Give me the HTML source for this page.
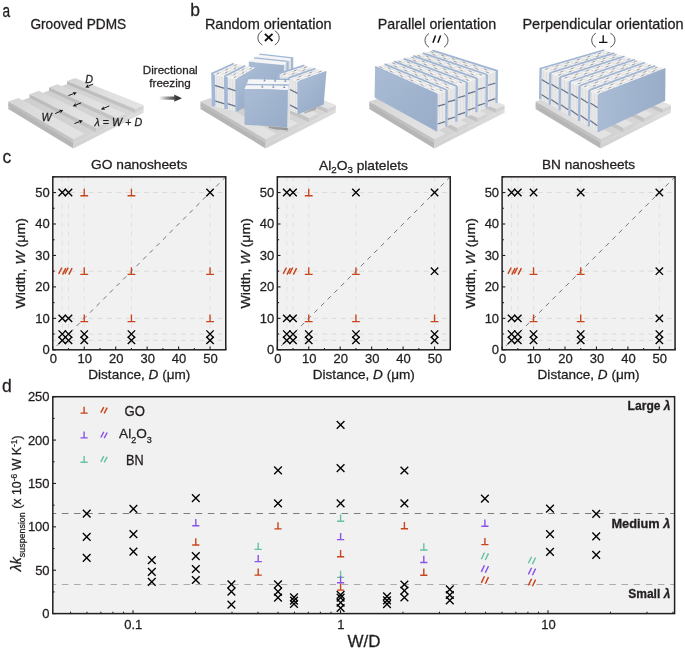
<!DOCTYPE html>
<html><head><meta charset="utf-8"><style>
html,body{margin:0;padding:0;background:#fff;}
svg{display:block;font-family:"Liberation Sans", sans-serif;will-change:transform;}
text{stroke:#231f20;stroke-width:0.28px;}
</style></head><body>
<svg width="685" height="652" viewBox="0 0 685 652">
<rect width="685" height="652" fill="#fff"/>
<defs><linearGradient id="g1" gradientUnits="userSpaceOnUse" x1="8.27" y1="105.34" x2="8.22" y2="109.07"><stop offset="0" stop-color="#c9c9c9"/><stop offset="0.3" stop-color="#c4c4c4"/><stop offset="1" stop-color="#b6b6b6"/></linearGradient><linearGradient id="g2" gradientUnits="userSpaceOnUse" x1="73.43" y1="143.76" x2="143.57" y2="108.94"><stop offset="0" stop-color="#d2d2d2"/><stop offset="1" stop-color="#dcdcdc"/></linearGradient><linearGradient id="g3" gradientUnits="userSpaceOnUse" x1="8.27" y1="105.34" x2="143.57" y2="108.94"><stop offset="0" stop-color="#cdcdcd"/><stop offset="1" stop-color="#d8d8d8"/></linearGradient><linearGradient id="g4" gradientUnits="userSpaceOnUse" x1="67.06" y1="80.93" x2="135.44" y2="109.01"><stop offset="0" stop-color="#bababa"/><stop offset="1" stop-color="#c4c4c4"/></linearGradient><linearGradient id="g5" gradientUnits="userSpaceOnUse" x1="67.06" y1="80.93" x2="143.60" y2="105.04"><stop offset="0" stop-color="#d5d5d5"/><stop offset="0.6" stop-color="#e1e1e1"/><stop offset="1" stop-color="#e3e3e3"/></linearGradient><linearGradient id="g6" gradientUnits="userSpaceOnUse" x1="49.02" y1="87.28" x2="116.76" y2="118.09"><stop offset="0" stop-color="#bababa"/><stop offset="1" stop-color="#c4c4c4"/></linearGradient><linearGradient id="g7" gradientUnits="userSpaceOnUse" x1="49.02" y1="87.28" x2="125.73" y2="113.73"><stop offset="0" stop-color="#d5d5d5"/><stop offset="0.6" stop-color="#e1e1e1"/><stop offset="1" stop-color="#e3e3e3"/></linearGradient><linearGradient id="g8" gradientUnits="userSpaceOnUse" x1="29.51" y1="94.16" x2="96.22" y2="128.08"><stop offset="0" stop-color="#bababa"/><stop offset="1" stop-color="#c4c4c4"/></linearGradient><linearGradient id="g9" gradientUnits="userSpaceOnUse" x1="29.51" y1="94.16" x2="106.09" y2="123.28"><stop offset="0" stop-color="#d5d5d5"/><stop offset="0.6" stop-color="#e1e1e1"/><stop offset="1" stop-color="#e3e3e3"/></linearGradient><linearGradient id="g10" gradientUnits="userSpaceOnUse" x1="8.33" y1="101.62" x2="73.49" y2="139.13"><stop offset="0" stop-color="#bababa"/><stop offset="1" stop-color="#c4c4c4"/></linearGradient><linearGradient id="g11" gradientUnits="userSpaceOnUse" x1="8.33" y1="101.62" x2="84.42" y2="133.81"><stop offset="0" stop-color="#d5d5d5"/><stop offset="0.6" stop-color="#e1e1e1"/><stop offset="1" stop-color="#e3e3e3"/></linearGradient><linearGradient id="g12" gradientUnits="userSpaceOnUse" x1="159.00" y1="98.00" x2="182.00" y2="98.00"><stop offset="0" stop-color="#ffffff"/><stop offset="0.35" stop-color="#9a9a9a"/><stop offset="0.75" stop-color="#3c3c3c"/><stop offset="1" stop-color="#2a2a2a"/></linearGradient><linearGradient id="g13" gradientUnits="userSpaceOnUse" x1="200.47" y1="105.34" x2="200.42" y2="109.07"><stop offset="0" stop-color="#c9c9c9"/><stop offset="0.3" stop-color="#c4c4c4"/><stop offset="1" stop-color="#b6b6b6"/></linearGradient><linearGradient id="g14" gradientUnits="userSpaceOnUse" x1="265.63" y1="143.76" x2="335.77" y2="108.94"><stop offset="0" stop-color="#d2d2d2"/><stop offset="1" stop-color="#dcdcdc"/></linearGradient><linearGradient id="g15" gradientUnits="userSpaceOnUse" x1="200.47" y1="105.34" x2="335.77" y2="108.94"><stop offset="0" stop-color="#cdcdcd"/><stop offset="1" stop-color="#d8d8d8"/></linearGradient><linearGradient id="g16" gradientUnits="userSpaceOnUse" x1="259.26" y1="80.93" x2="327.64" y2="109.01"><stop offset="0" stop-color="#bababa"/><stop offset="1" stop-color="#c4c4c4"/></linearGradient><linearGradient id="g17" gradientUnits="userSpaceOnUse" x1="259.26" y1="80.93" x2="335.80" y2="105.04"><stop offset="0" stop-color="#d5d5d5"/><stop offset="0.6" stop-color="#e1e1e1"/><stop offset="1" stop-color="#e3e3e3"/></linearGradient><linearGradient id="g18" gradientUnits="userSpaceOnUse" x1="241.22" y1="87.28" x2="308.96" y2="118.09"><stop offset="0" stop-color="#bababa"/><stop offset="1" stop-color="#c4c4c4"/></linearGradient><linearGradient id="g19" gradientUnits="userSpaceOnUse" x1="241.22" y1="87.28" x2="317.93" y2="113.73"><stop offset="0" stop-color="#d5d5d5"/><stop offset="0.6" stop-color="#e1e1e1"/><stop offset="1" stop-color="#e3e3e3"/></linearGradient><linearGradient id="g20" gradientUnits="userSpaceOnUse" x1="221.71" y1="94.16" x2="288.42" y2="128.08"><stop offset="0" stop-color="#bababa"/><stop offset="1" stop-color="#c4c4c4"/></linearGradient><linearGradient id="g21" gradientUnits="userSpaceOnUse" x1="221.71" y1="94.16" x2="298.29" y2="123.28"><stop offset="0" stop-color="#d5d5d5"/><stop offset="0.6" stop-color="#e1e1e1"/><stop offset="1" stop-color="#e3e3e3"/></linearGradient><linearGradient id="g22" gradientUnits="userSpaceOnUse" x1="200.53" y1="101.62" x2="265.69" y2="139.13"><stop offset="0" stop-color="#bababa"/><stop offset="1" stop-color="#c4c4c4"/></linearGradient><linearGradient id="g23" gradientUnits="userSpaceOnUse" x1="200.53" y1="101.62" x2="276.62" y2="133.81"><stop offset="0" stop-color="#d5d5d5"/><stop offset="0.6" stop-color="#e1e1e1"/><stop offset="1" stop-color="#e3e3e3"/></linearGradient><linearGradient id="g24" gradientUnits="userSpaceOnUse" x1="369.27" y1="105.34" x2="369.22" y2="109.07"><stop offset="0" stop-color="#c9c9c9"/><stop offset="0.3" stop-color="#c4c4c4"/><stop offset="1" stop-color="#b6b6b6"/></linearGradient><linearGradient id="g25" gradientUnits="userSpaceOnUse" x1="434.43" y1="143.76" x2="504.57" y2="108.94"><stop offset="0" stop-color="#d2d2d2"/><stop offset="1" stop-color="#dcdcdc"/></linearGradient><linearGradient id="g26" gradientUnits="userSpaceOnUse" x1="369.27" y1="105.34" x2="504.57" y2="108.94"><stop offset="0" stop-color="#cdcdcd"/><stop offset="1" stop-color="#d8d8d8"/></linearGradient><linearGradient id="g27" gradientUnits="userSpaceOnUse" x1="428.06" y1="80.93" x2="496.44" y2="109.01"><stop offset="0" stop-color="#bababa"/><stop offset="1" stop-color="#c4c4c4"/></linearGradient><linearGradient id="g28" gradientUnits="userSpaceOnUse" x1="428.06" y1="80.93" x2="504.60" y2="105.04"><stop offset="0" stop-color="#d5d5d5"/><stop offset="0.6" stop-color="#e1e1e1"/><stop offset="1" stop-color="#e3e3e3"/></linearGradient><linearGradient id="g29" gradientUnits="userSpaceOnUse" x1="410.02" y1="87.28" x2="477.76" y2="118.09"><stop offset="0" stop-color="#bababa"/><stop offset="1" stop-color="#c4c4c4"/></linearGradient><linearGradient id="g30" gradientUnits="userSpaceOnUse" x1="410.02" y1="87.28" x2="486.73" y2="113.73"><stop offset="0" stop-color="#d5d5d5"/><stop offset="0.6" stop-color="#e1e1e1"/><stop offset="1" stop-color="#e3e3e3"/></linearGradient><linearGradient id="g31" gradientUnits="userSpaceOnUse" x1="390.51" y1="94.16" x2="457.22" y2="128.08"><stop offset="0" stop-color="#bababa"/><stop offset="1" stop-color="#c4c4c4"/></linearGradient><linearGradient id="g32" gradientUnits="userSpaceOnUse" x1="390.51" y1="94.16" x2="467.09" y2="123.28"><stop offset="0" stop-color="#d5d5d5"/><stop offset="0.6" stop-color="#e1e1e1"/><stop offset="1" stop-color="#e3e3e3"/></linearGradient><linearGradient id="g33" gradientUnits="userSpaceOnUse" x1="369.33" y1="101.62" x2="434.49" y2="139.13"><stop offset="0" stop-color="#bababa"/><stop offset="1" stop-color="#c4c4c4"/></linearGradient><linearGradient id="g34" gradientUnits="userSpaceOnUse" x1="369.33" y1="101.62" x2="445.42" y2="133.81"><stop offset="0" stop-color="#d5d5d5"/><stop offset="0.6" stop-color="#e1e1e1"/><stop offset="1" stop-color="#e3e3e3"/></linearGradient><linearGradient id="g35" gradientUnits="userSpaceOnUse" x1="535.57" y1="105.34" x2="535.52" y2="109.07"><stop offset="0" stop-color="#c9c9c9"/><stop offset="0.3" stop-color="#c4c4c4"/><stop offset="1" stop-color="#b6b6b6"/></linearGradient><linearGradient id="g36" gradientUnits="userSpaceOnUse" x1="600.73" y1="143.76" x2="670.87" y2="108.94"><stop offset="0" stop-color="#d2d2d2"/><stop offset="1" stop-color="#dcdcdc"/></linearGradient><linearGradient id="g37" gradientUnits="userSpaceOnUse" x1="535.57" y1="105.34" x2="670.87" y2="108.94"><stop offset="0" stop-color="#cdcdcd"/><stop offset="1" stop-color="#d8d8d8"/></linearGradient><linearGradient id="g38" gradientUnits="userSpaceOnUse" x1="594.36" y1="80.93" x2="662.74" y2="109.01"><stop offset="0" stop-color="#bababa"/><stop offset="1" stop-color="#c4c4c4"/></linearGradient><linearGradient id="g39" gradientUnits="userSpaceOnUse" x1="594.36" y1="80.93" x2="670.90" y2="105.04"><stop offset="0" stop-color="#d5d5d5"/><stop offset="0.6" stop-color="#e1e1e1"/><stop offset="1" stop-color="#e3e3e3"/></linearGradient><linearGradient id="g40" gradientUnits="userSpaceOnUse" x1="576.32" y1="87.28" x2="644.06" y2="118.09"><stop offset="0" stop-color="#bababa"/><stop offset="1" stop-color="#c4c4c4"/></linearGradient><linearGradient id="g41" gradientUnits="userSpaceOnUse" x1="576.32" y1="87.28" x2="653.03" y2="113.73"><stop offset="0" stop-color="#d5d5d5"/><stop offset="0.6" stop-color="#e1e1e1"/><stop offset="1" stop-color="#e3e3e3"/></linearGradient><linearGradient id="g42" gradientUnits="userSpaceOnUse" x1="556.81" y1="94.16" x2="623.52" y2="128.08"><stop offset="0" stop-color="#bababa"/><stop offset="1" stop-color="#c4c4c4"/></linearGradient><linearGradient id="g43" gradientUnits="userSpaceOnUse" x1="556.81" y1="94.16" x2="633.39" y2="123.28"><stop offset="0" stop-color="#d5d5d5"/><stop offset="0.6" stop-color="#e1e1e1"/><stop offset="1" stop-color="#e3e3e3"/></linearGradient><linearGradient id="g44" gradientUnits="userSpaceOnUse" x1="535.63" y1="101.62" x2="600.79" y2="139.13"><stop offset="0" stop-color="#bababa"/><stop offset="1" stop-color="#c4c4c4"/></linearGradient><linearGradient id="g45" gradientUnits="userSpaceOnUse" x1="535.63" y1="101.62" x2="611.72" y2="133.81"><stop offset="0" stop-color="#d5d5d5"/><stop offset="0.6" stop-color="#e1e1e1"/><stop offset="1" stop-color="#e3e3e3"/></linearGradient><linearGradient id="g46" gradientUnits="userSpaceOnUse" x1="375.07" y1="66.90" x2="436.27" y2="131.25"><stop offset="0" stop-color="#aabcd5"/><stop offset="1" stop-color="#98acc8"/></linearGradient><linearGradient id="g47" gradientUnits="userSpaceOnUse" x1="599.06" y1="94.50" x2="665.18" y2="100.76"><stop offset="0" stop-color="#aabcd5"/><stop offset="1" stop-color="#98acc8"/></linearGradient><linearGradient id="g48" gradientUnits="userSpaceOnUse" x1="248.80" y1="61.60" x2="282.90" y2="99.00"><stop offset="0" stop-color="#aabcd5"/><stop offset="1" stop-color="#98acc8"/></linearGradient><linearGradient id="g49" gradientUnits="userSpaceOnUse" x1="237.20" y1="79.30" x2="256.50" y2="100.50"><stop offset="0" stop-color="#aabcd5"/><stop offset="1" stop-color="#98acc8"/></linearGradient><linearGradient id="g50" gradientUnits="userSpaceOnUse" x1="298.50" y1="81.90" x2="323.70" y2="104.40"><stop offset="0" stop-color="#aabcd5"/><stop offset="1" stop-color="#98acc8"/></linearGradient><linearGradient id="g51" gradientUnits="userSpaceOnUse" x1="244.50" y1="88.90" x2="287.30" y2="127.30"><stop offset="0" stop-color="#aabcd5"/><stop offset="1" stop-color="#98acc8"/></linearGradient></defs>
<polygon points="8.27,105.34 73.43,143.76 73.38,148.39 8.22,109.07" fill="url(#g1)" />
<polygon points="73.43,143.76 143.57,108.94 143.54,112.85 73.38,148.39" fill="url(#g2)" />
<polygon points="8.27,105.34 75.01,81.36 143.57,108.94 73.43,143.76" fill="url(#g3)" />
<polygon points="67.06,80.93 135.44,109.01 135.40,113.00 67.01,84.23" fill="url(#g4)" />
<polygon points="135.40,113.00 143.57,108.94 143.60,105.04 135.44,109.01" fill="#d3d3d3" />
<polygon points="67.06,80.93 75.04,78.12 143.60,105.04 135.44,109.01" fill="url(#g5)" />
<polygon points="49.02,87.28 116.76,118.09 116.72,122.27 48.98,90.71" fill="url(#g6)" />
<polygon points="116.72,122.27 125.69,117.82 125.73,113.73 116.76,118.09" fill="#d3d3d3" />
<polygon points="49.02,87.28 57.64,84.24 125.73,113.73 116.76,118.09" fill="url(#g7)" />
<polygon points="29.51,94.16 96.22,128.08 96.17,132.47 29.46,97.73" fill="url(#g8)" />
<polygon points="96.17,132.47 106.04,127.57 106.09,123.28 96.22,128.08" fill="#d3d3d3" />
<polygon points="29.51,94.16 38.84,90.87 106.09,123.28 96.22,128.08" fill="url(#g9)" />
<polygon points="8.33,101.62 73.49,139.13 73.43,143.76 8.27,105.34" fill="url(#g10)" />
<polygon points="73.43,143.76 84.37,138.33 84.42,133.81 73.49,139.13" fill="#d3d3d3" />
<polygon points="8.33,101.62 18.47,98.05 84.42,133.81 73.49,139.13" fill="url(#g11)" />
<line x1="8.27" y1="105.34" x2="73.43" y2="143.76" stroke="#a9a9a9" stroke-width="0.7" />
<line x1="93.20" y1="84.00" x2="88.33" y2="86.10" stroke="#111" stroke-width="0.95" /><polygon points="85.30,87.40 88.04,84.15 88.06,86.21 89.54,87.64" fill="#111" />
<line x1="68.40" y1="95.60" x2="73.72" y2="93.57" stroke="#111" stroke-width="0.95" /><polygon points="76.80,92.40 73.93,95.53 74.00,93.47 72.57,91.98" fill="#111" />
<line x1="81.20" y1="102.80" x2="75.86" y2="104.96" stroke="#111" stroke-width="0.95" /><polygon points="72.80,106.20 75.61,103.01 75.58,105.07 77.04,106.54" fill="#111" />
<line x1="109.20" y1="106.00" x2="103.95" y2="108.15" stroke="#111" stroke-width="0.95" /><polygon points="100.90,109.40 103.70,106.20 103.68,108.26 105.14,109.72" fill="#111" />
<line x1="55.20" y1="113.60" x2="60.19" y2="111.35" stroke="#111" stroke-width="0.95" /><polygon points="63.20,110.00 60.51,113.29 60.46,111.23 58.96,109.83" fill="#111" />
<line x1="74.40" y1="123.60" x2="79.72" y2="121.57" stroke="#111" stroke-width="0.95" /><polygon points="82.80,120.40 79.93,123.53 80.00,121.47 78.57,119.98" fill="#111" />
<text x="85.2" y="82.6" font-size="10.8" font-style="italic" fill="#231f20">D</text>
<text x="41.4" y="120.7" font-size="10.8" font-style="italic" fill="#231f20">W</text>
<text x="94.6" y="125.6" font-size="10.8" fill="#231f20" textLength="47.6" lengthAdjust="spacingAndGlyphs"><tspan font-style="italic">λ</tspan> = <tspan font-style="italic">W</tspan> + <tspan font-style="italic">D</tspan></text>
<path d="M159.1,96.5H174.2V94.6L181.9,98.2L174.2,101.8V99.8H159.1Z" fill="url(#g12)"/>
<path d="M262.30,30.80C256.43,33.90 256.43,41.80 262.30,44.90" stroke="#333" stroke-width="0.85" fill="none"/>
<path d="M274.80,30.80C280.67,33.90 280.67,41.80 274.80,44.90" stroke="#333" stroke-width="0.85" fill="none"/>
<path d="M264.9,33.8L272.5,41.0M272.5,33.8L264.9,41.0" stroke="#111" stroke-width="1.75"/>
<path d="M429.00,33.50C423.67,36.51 423.67,44.19 429.00,47.20" stroke="#333" stroke-width="0.85" fill="none"/>
<path d="M444.00,33.50C449.33,36.51 449.33,44.19 444.00,47.20" stroke="#333" stroke-width="0.85" fill="none"/>
<path d="M435.6,35.6L432.9,42.8M440.6,35.6L437.9,42.8" stroke="#111" stroke-width="1.5"/>
<path d="M595.80,33.20C590.33,36.28 590.33,44.12 595.80,47.20" stroke="#333" stroke-width="0.85" fill="none"/>
<path d="M610.40,33.20C616.53,36.28 616.53,44.12 610.40,47.20" stroke="#333" stroke-width="0.85" fill="none"/>
<path d="M603.2,35.3V42.3M599.0,42.3H607.4" stroke="#111" stroke-width="1.35"/>
<polygon points="200.47,105.34 265.63,143.76 265.58,148.39 200.42,109.07" fill="url(#g13)" />
<polygon points="265.63,143.76 335.77,108.94 335.74,112.85 265.58,148.39" fill="url(#g14)" />
<polygon points="200.47,105.34 267.21,81.36 335.77,108.94 265.63,143.76" fill="url(#g15)" />
<polygon points="259.26,80.93 327.64,109.01 327.60,113.00 259.21,84.23" fill="url(#g16)" />
<polygon points="327.60,113.00 335.77,108.94 335.80,105.04 327.64,109.01" fill="#d3d3d3" />
<polygon points="259.26,80.93 267.24,78.12 335.80,105.04 327.64,109.01" fill="url(#g17)" />
<polygon points="241.22,87.28 308.96,118.09 308.92,122.27 241.18,90.71" fill="url(#g18)" />
<polygon points="308.92,122.27 317.89,117.82 317.93,113.73 308.96,118.09" fill="#d3d3d3" />
<polygon points="241.22,87.28 249.84,84.24 317.93,113.73 308.96,118.09" fill="url(#g19)" />
<polygon points="221.71,94.16 288.42,128.08 288.37,132.47 221.66,97.73" fill="url(#g20)" />
<polygon points="288.37,132.47 298.24,127.57 298.29,123.28 288.42,128.08" fill="#d3d3d3" />
<polygon points="221.71,94.16 231.04,90.87 298.29,123.28 288.42,128.08" fill="url(#g21)" />
<polygon points="200.53,101.62 265.69,139.13 265.63,143.76 200.47,105.34" fill="url(#g22)" />
<polygon points="265.63,143.76 276.57,138.33 276.62,133.81 265.69,139.13" fill="#d3d3d3" />
<polygon points="200.53,101.62 210.67,98.05 276.62,133.81 265.69,139.13" fill="url(#g23)" />
<line x1="200.47" y1="105.34" x2="265.63" y2="143.76" stroke="#a9a9a9" stroke-width="0.7" />
<polygon points="369.27,105.34 434.43,143.76 434.38,148.39 369.22,109.07" fill="url(#g24)" />
<polygon points="434.43,143.76 504.57,108.94 504.54,112.85 434.38,148.39" fill="url(#g25)" />
<polygon points="369.27,105.34 436.01,81.36 504.57,108.94 434.43,143.76" fill="url(#g26)" />
<polygon points="428.06,80.93 496.44,109.01 496.40,113.00 428.01,84.23" fill="url(#g27)" />
<polygon points="496.40,113.00 504.57,108.94 504.60,105.04 496.44,109.01" fill="#d3d3d3" />
<polygon points="428.06,80.93 436.04,78.12 504.60,105.04 496.44,109.01" fill="url(#g28)" />
<polygon points="410.02,87.28 477.76,118.09 477.72,122.27 409.98,90.71" fill="url(#g29)" />
<polygon points="477.72,122.27 486.69,117.82 486.73,113.73 477.76,118.09" fill="#d3d3d3" />
<polygon points="410.02,87.28 418.64,84.24 486.73,113.73 477.76,118.09" fill="url(#g30)" />
<polygon points="390.51,94.16 457.22,128.08 457.17,132.47 390.46,97.73" fill="url(#g31)" />
<polygon points="457.17,132.47 467.04,127.57 467.09,123.28 457.22,128.08" fill="#d3d3d3" />
<polygon points="390.51,94.16 399.84,90.87 467.09,123.28 457.22,128.08" fill="url(#g32)" />
<polygon points="369.33,101.62 434.49,139.13 434.43,143.76 369.27,105.34" fill="url(#g33)" />
<polygon points="434.43,143.76 445.37,138.33 445.42,133.81 434.49,139.13" fill="#d3d3d3" />
<polygon points="369.33,101.62 379.47,98.05 445.42,133.81 434.49,139.13" fill="url(#g34)" />
<line x1="369.27" y1="105.34" x2="434.43" y2="143.76" stroke="#a9a9a9" stroke-width="0.7" />
<polygon points="535.57,105.34 600.73,143.76 600.68,148.39 535.52,109.07" fill="url(#g35)" />
<polygon points="600.73,143.76 670.87,108.94 670.84,112.85 600.68,148.39" fill="url(#g36)" />
<polygon points="535.57,105.34 602.31,81.36 670.87,108.94 600.73,143.76" fill="url(#g37)" />
<polygon points="594.36,80.93 662.74,109.01 662.70,113.00 594.31,84.23" fill="url(#g38)" />
<polygon points="662.70,113.00 670.87,108.94 670.90,105.04 662.74,109.01" fill="#d3d3d3" />
<polygon points="594.36,80.93 602.34,78.12 670.90,105.04 662.74,109.01" fill="url(#g39)" />
<polygon points="576.32,87.28 644.06,118.09 644.02,122.27 576.28,90.71" fill="url(#g40)" />
<polygon points="644.02,122.27 652.99,117.82 653.03,113.73 644.06,118.09" fill="#d3d3d3" />
<polygon points="576.32,87.28 584.94,84.24 653.03,113.73 644.06,118.09" fill="url(#g41)" />
<polygon points="556.81,94.16 623.52,128.08 623.47,132.47 556.76,97.73" fill="url(#g42)" />
<polygon points="623.47,132.47 633.34,127.57 633.39,123.28 623.52,128.08" fill="#d3d3d3" />
<polygon points="556.81,94.16 566.14,90.87 633.39,123.28 623.52,128.08" fill="url(#g43)" />
<polygon points="535.63,101.62 600.79,139.13 600.73,143.76 535.57,105.34" fill="url(#g44)" />
<polygon points="600.73,143.76 611.67,138.33 611.72,133.81 600.79,139.13" fill="#d3d3d3" />
<polygon points="535.63,101.62 545.77,98.05 611.72,133.81 600.79,139.13" fill="url(#g45)" />
<line x1="535.57" y1="105.34" x2="600.73" y2="143.76" stroke="#a9a9a9" stroke-width="0.7" />
<polygon points="436.72,93.94 496.83,70.61 496.53,102.89 436.27,131.25" fill="#f3f3f3" />
<line x1="438.21" y1="94.10" x2="437.77" y2="130.54" stroke="#c4c4c4" stroke-width="0.45" />
<line x1="439.71" y1="93.51" x2="439.28" y2="129.83" stroke="#c4c4c4" stroke-width="0.45" />
<line x1="441.22" y1="92.93" x2="440.79" y2="129.12" stroke="#c4c4c4" stroke-width="0.45" />
<line x1="442.72" y1="92.34" x2="442.29" y2="128.42" stroke="#c4c4c4" stroke-width="0.45" />
<line x1="444.22" y1="91.75" x2="443.80" y2="127.71" stroke="#c4c4c4" stroke-width="0.45" />
<line x1="445.72" y1="91.17" x2="445.31" y2="127.00" stroke="#c4c4c4" stroke-width="0.45" />
<line x1="447.23" y1="90.58" x2="446.81" y2="126.29" stroke="#c4c4c4" stroke-width="0.45" />
<line x1="448.73" y1="90.00" x2="448.32" y2="125.58" stroke="#c4c4c4" stroke-width="0.45" />
<line x1="450.23" y1="89.41" x2="449.83" y2="124.87" stroke="#c4c4c4" stroke-width="0.45" />
<line x1="451.74" y1="88.83" x2="451.33" y2="124.16" stroke="#c4c4c4" stroke-width="0.45" />
<line x1="453.24" y1="88.24" x2="452.84" y2="123.45" stroke="#c4c4c4" stroke-width="0.45" />
<line x1="454.74" y1="87.65" x2="454.34" y2="122.74" stroke="#c4c4c4" stroke-width="0.45" />
<line x1="456.25" y1="87.07" x2="455.85" y2="122.03" stroke="#c4c4c4" stroke-width="0.45" />
<line x1="457.75" y1="86.48" x2="457.36" y2="121.33" stroke="#c4c4c4" stroke-width="0.45" />
<line x1="459.25" y1="85.90" x2="458.86" y2="120.62" stroke="#c4c4c4" stroke-width="0.45" />
<line x1="460.75" y1="85.31" x2="460.37" y2="119.91" stroke="#c4c4c4" stroke-width="0.45" />
<line x1="462.26" y1="84.73" x2="461.88" y2="119.20" stroke="#c4c4c4" stroke-width="0.45" />
<line x1="463.76" y1="84.14" x2="463.38" y2="118.49" stroke="#c4c4c4" stroke-width="0.45" />
<line x1="465.26" y1="83.55" x2="464.89" y2="117.78" stroke="#c4c4c4" stroke-width="0.45" />
<line x1="466.77" y1="82.97" x2="466.40" y2="117.07" stroke="#c4c4c4" stroke-width="0.45" />
<line x1="468.27" y1="82.38" x2="467.90" y2="116.36" stroke="#c4c4c4" stroke-width="0.45" />
<line x1="469.77" y1="81.80" x2="469.41" y2="115.65" stroke="#c4c4c4" stroke-width="0.45" />
<line x1="471.27" y1="81.21" x2="470.92" y2="114.94" stroke="#c4c4c4" stroke-width="0.45" />
<line x1="472.78" y1="80.63" x2="472.42" y2="114.24" stroke="#c4c4c4" stroke-width="0.45" />
<line x1="474.28" y1="80.04" x2="473.93" y2="113.53" stroke="#c4c4c4" stroke-width="0.45" />
<line x1="475.78" y1="79.45" x2="475.44" y2="112.82" stroke="#c4c4c4" stroke-width="0.45" />
<line x1="477.29" y1="78.87" x2="476.94" y2="112.11" stroke="#c4c4c4" stroke-width="0.45" />
<line x1="478.79" y1="78.28" x2="478.45" y2="111.40" stroke="#c4c4c4" stroke-width="0.45" />
<line x1="480.29" y1="77.70" x2="479.96" y2="110.69" stroke="#c4c4c4" stroke-width="0.45" />
<line x1="481.80" y1="77.11" x2="481.46" y2="109.98" stroke="#c4c4c4" stroke-width="0.45" />
<line x1="483.30" y1="76.53" x2="482.97" y2="109.27" stroke="#c4c4c4" stroke-width="0.45" />
<line x1="484.80" y1="75.94" x2="484.48" y2="108.56" stroke="#c4c4c4" stroke-width="0.45" />
<line x1="486.30" y1="75.35" x2="485.98" y2="107.85" stroke="#c4c4c4" stroke-width="0.45" />
<line x1="487.81" y1="74.77" x2="487.49" y2="107.14" stroke="#c4c4c4" stroke-width="0.45" />
<line x1="489.31" y1="74.18" x2="489.00" y2="106.44" stroke="#c4c4c4" stroke-width="0.45" />
<line x1="490.81" y1="73.60" x2="490.50" y2="105.73" stroke="#c4c4c4" stroke-width="0.45" />
<line x1="492.32" y1="73.01" x2="492.01" y2="105.02" stroke="#c4c4c4" stroke-width="0.45" />
<line x1="493.82" y1="72.43" x2="493.52" y2="104.31" stroke="#c4c4c4" stroke-width="0.45" />
<line x1="495.32" y1="71.84" x2="495.02" y2="103.60" stroke="#c4c4c4" stroke-width="0.45" />
<line x1="437.77" y1="106.12" x2="445.37" y2="104.05" stroke="#65728a" stroke-width="1.2" />
<line x1="447.79" y1="101.95" x2="455.40" y2="99.85" stroke="#65728a" stroke-width="1.2" />
<line x1="457.82" y1="97.78" x2="465.43" y2="95.65" stroke="#65728a" stroke-width="1.2" />
<line x1="467.85" y1="93.60" x2="475.46" y2="91.45" stroke="#65728a" stroke-width="1.2" />
<line x1="477.88" y1="89.43" x2="485.49" y2="87.26" stroke="#65728a" stroke-width="1.2" />
<line x1="487.90" y1="85.26" x2="495.52" y2="83.06" stroke="#65728a" stroke-width="1.2" />
<line x1="437.55" y1="123.99" x2="445.17" y2="121.61" stroke="#65728a" stroke-width="1.2" />
<line x1="447.59" y1="119.41" x2="455.21" y2="117.00" stroke="#65728a" stroke-width="1.2" />
<line x1="457.63" y1="114.83" x2="465.25" y2="112.40" stroke="#65728a" stroke-width="1.2" />
<line x1="467.67" y1="110.26" x2="475.29" y2="107.80" stroke="#65728a" stroke-width="1.2" />
<line x1="477.71" y1="105.68" x2="485.33" y2="103.20" stroke="#65728a" stroke-width="1.2" />
<line x1="487.75" y1="101.11" x2="495.37" y2="98.60" stroke="#65728a" stroke-width="1.2" />
<line x1="436.73" y1="93.19" x2="436.27" y2="131.25" stroke="#a3b8d6" stroke-width="2.3" />
<line x1="446.74" y1="89.32" x2="446.31" y2="126.52" stroke="#a3b8d6" stroke-width="2.3" />
<line x1="456.76" y1="85.45" x2="456.35" y2="121.80" stroke="#a3b8d6" stroke-width="2.3" />
<line x1="466.78" y1="81.58" x2="466.40" y2="117.07" stroke="#a3b8d6" stroke-width="2.3" />
<line x1="476.80" y1="77.71" x2="476.44" y2="112.34" stroke="#a3b8d6" stroke-width="2.3" />
<line x1="486.82" y1="73.83" x2="486.49" y2="107.62" stroke="#a3b8d6" stroke-width="2.3" />
<line x1="496.84" y1="69.96" x2="496.53" y2="102.89" stroke="#a3b8d6" stroke-width="2.3" />
<polygon points="375.07,66.90 432.39,50.37 496.83,70.61 436.72,93.94" fill="#f5f5f5" />
<line x1="380.20" y1="69.15" x2="437.76" y2="52.06" stroke="#cfcfcf" stroke-width="0.55" />
<line x1="385.34" y1="71.40" x2="443.13" y2="53.74" stroke="#cfcfcf" stroke-width="0.55" />
<line x1="390.48" y1="73.66" x2="448.50" y2="55.43" stroke="#cfcfcf" stroke-width="0.55" />
<line x1="395.62" y1="75.91" x2="453.87" y2="57.12" stroke="#cfcfcf" stroke-width="0.55" />
<line x1="400.75" y1="78.16" x2="459.24" y2="58.80" stroke="#cfcfcf" stroke-width="0.55" />
<line x1="405.89" y1="80.42" x2="464.61" y2="60.49" stroke="#cfcfcf" stroke-width="0.55" />
<line x1="411.03" y1="82.67" x2="469.98" y2="62.18" stroke="#cfcfcf" stroke-width="0.55" />
<line x1="416.17" y1="84.92" x2="475.35" y2="63.86" stroke="#cfcfcf" stroke-width="0.55" />
<line x1="421.30" y1="87.18" x2="480.72" y2="65.55" stroke="#cfcfcf" stroke-width="0.55" />
<line x1="426.44" y1="89.43" x2="486.09" y2="67.24" stroke="#cfcfcf" stroke-width="0.55" />
<line x1="431.58" y1="91.68" x2="491.46" y2="68.92" stroke="#cfcfcf" stroke-width="0.55" />
<line x1="378.22" y1="65.99" x2="440.02" y2="92.65" stroke="#d6d6d6" stroke-width="0.5" />
<line x1="381.47" y1="65.05" x2="443.43" y2="91.33" stroke="#d6d6d6" stroke-width="0.5" />
<line x1="379.51" y1="66.54" x2="382.08" y2="67.66" stroke="#858585" stroke-width="0.75" />
<line x1="387.92" y1="67.79" x2="390.50" y2="68.88" stroke="#858585" stroke-width="0.75" />
<line x1="389.81" y1="70.99" x2="392.38" y2="72.10" stroke="#858585" stroke-width="0.75" />
<line x1="398.25" y1="72.17" x2="400.83" y2="73.26" stroke="#858585" stroke-width="0.75" />
<line x1="400.11" y1="75.43" x2="402.68" y2="76.54" stroke="#858585" stroke-width="0.75" />
<line x1="408.58" y1="76.55" x2="411.16" y2="77.64" stroke="#858585" stroke-width="0.75" />
<line x1="410.41" y1="79.88" x2="412.98" y2="80.99" stroke="#858585" stroke-width="0.75" />
<line x1="418.90" y1="80.93" x2="421.48" y2="82.02" stroke="#858585" stroke-width="0.75" />
<line x1="420.71" y1="84.32" x2="423.28" y2="85.43" stroke="#858585" stroke-width="0.75" />
<line x1="429.23" y1="85.31" x2="431.81" y2="86.40" stroke="#858585" stroke-width="0.75" />
<line x1="431.01" y1="88.76" x2="433.58" y2="89.88" stroke="#858585" stroke-width="0.75" />
<line x1="439.56" y1="89.69" x2="442.14" y2="90.78" stroke="#858585" stroke-width="0.75" />
<line x1="387.77" y1="63.23" x2="450.04" y2="88.77" stroke="#d6d6d6" stroke-width="0.5" />
<line x1="391.02" y1="62.30" x2="453.45" y2="87.44" stroke="#d6d6d6" stroke-width="0.5" />
<line x1="392.32" y1="62.82" x2="394.92" y2="63.87" stroke="#858585" stroke-width="0.75" />
<line x1="394.26" y1="65.89" x2="396.85" y2="66.96" stroke="#858585" stroke-width="0.75" />
<line x1="402.73" y1="67.01" x2="405.33" y2="68.06" stroke="#858585" stroke-width="0.75" />
<line x1="404.64" y1="70.15" x2="407.23" y2="71.21" stroke="#858585" stroke-width="0.75" />
<line x1="413.13" y1="71.20" x2="415.73" y2="72.25" stroke="#858585" stroke-width="0.75" />
<line x1="415.02" y1="74.40" x2="417.61" y2="75.47" stroke="#858585" stroke-width="0.75" />
<line x1="423.54" y1="75.39" x2="426.14" y2="76.44" stroke="#858585" stroke-width="0.75" />
<line x1="425.39" y1="78.66" x2="427.99" y2="79.72" stroke="#858585" stroke-width="0.75" />
<line x1="433.94" y1="79.59" x2="436.54" y2="80.63" stroke="#858585" stroke-width="0.75" />
<line x1="435.77" y1="82.91" x2="438.37" y2="83.98" stroke="#858585" stroke-width="0.75" />
<line x1="444.34" y1="83.78" x2="446.95" y2="84.82" stroke="#858585" stroke-width="0.75" />
<line x1="446.15" y1="87.17" x2="448.74" y2="88.23" stroke="#858585" stroke-width="0.75" />
<line x1="397.33" y1="60.48" x2="460.06" y2="84.88" stroke="#d6d6d6" stroke-width="0.5" />
<line x1="400.58" y1="59.54" x2="463.47" y2="83.56" stroke="#d6d6d6" stroke-width="0.5" />
<line x1="398.63" y1="60.99" x2="401.25" y2="62.00" stroke="#858585" stroke-width="0.75" />
<line x1="407.13" y1="62.04" x2="409.75" y2="63.05" stroke="#858585" stroke-width="0.75" />
<line x1="409.09" y1="65.05" x2="411.70" y2="66.07" stroke="#858585" stroke-width="0.75" />
<line x1="417.61" y1="66.05" x2="420.23" y2="67.05" stroke="#858585" stroke-width="0.75" />
<line x1="419.55" y1="69.12" x2="422.16" y2="70.14" stroke="#858585" stroke-width="0.75" />
<line x1="428.09" y1="70.05" x2="430.71" y2="71.05" stroke="#858585" stroke-width="0.75" />
<line x1="430.00" y1="73.19" x2="432.61" y2="74.20" stroke="#858585" stroke-width="0.75" />
<line x1="438.57" y1="74.05" x2="441.19" y2="75.05" stroke="#858585" stroke-width="0.75" />
<line x1="440.46" y1="77.25" x2="443.07" y2="78.27" stroke="#858585" stroke-width="0.75" />
<line x1="449.05" y1="78.05" x2="451.67" y2="79.05" stroke="#858585" stroke-width="0.75" />
<line x1="450.91" y1="81.32" x2="453.53" y2="82.34" stroke="#858585" stroke-width="0.75" />
<line x1="459.54" y1="82.06" x2="462.16" y2="83.06" stroke="#858585" stroke-width="0.75" />
<line x1="406.88" y1="57.73" x2="470.08" y2="80.99" stroke="#d6d6d6" stroke-width="0.5" />
<line x1="410.13" y1="56.79" x2="473.49" y2="79.67" stroke="#d6d6d6" stroke-width="0.5" />
<line x1="411.45" y1="57.27" x2="414.09" y2="58.22" stroke="#858585" stroke-width="0.75" />
<line x1="413.46" y1="60.15" x2="416.10" y2="61.12" stroke="#858585" stroke-width="0.75" />
<line x1="422.01" y1="61.08" x2="424.65" y2="62.03" stroke="#858585" stroke-width="0.75" />
<line x1="424.00" y1="64.03" x2="426.63" y2="65.00" stroke="#858585" stroke-width="0.75" />
<line x1="432.57" y1="64.89" x2="435.21" y2="65.85" stroke="#858585" stroke-width="0.75" />
<line x1="434.53" y1="67.90" x2="437.16" y2="68.87" stroke="#858585" stroke-width="0.75" />
<line x1="443.13" y1="68.71" x2="445.77" y2="69.66" stroke="#858585" stroke-width="0.75" />
<line x1="445.06" y1="71.78" x2="447.70" y2="72.75" stroke="#858585" stroke-width="0.75" />
<line x1="453.69" y1="72.52" x2="456.33" y2="73.47" stroke="#858585" stroke-width="0.75" />
<line x1="455.60" y1="75.66" x2="458.23" y2="76.63" stroke="#858585" stroke-width="0.75" />
<line x1="464.25" y1="76.33" x2="466.89" y2="77.28" stroke="#858585" stroke-width="0.75" />
<line x1="466.13" y1="79.54" x2="468.76" y2="80.51" stroke="#858585" stroke-width="0.75" />
<line x1="416.43" y1="54.97" x2="480.10" y2="77.10" stroke="#d6d6d6" stroke-width="0.5" />
<line x1="419.68" y1="54.03" x2="483.51" y2="75.78" stroke="#d6d6d6" stroke-width="0.5" />
<line x1="417.76" y1="55.43" x2="420.41" y2="56.35" stroke="#858585" stroke-width="0.75" />
<line x1="426.33" y1="56.30" x2="428.99" y2="57.21" stroke="#858585" stroke-width="0.75" />
<line x1="428.37" y1="59.12" x2="431.02" y2="60.04" stroke="#858585" stroke-width="0.75" />
<line x1="436.97" y1="59.92" x2="439.63" y2="60.83" stroke="#858585" stroke-width="0.75" />
<line x1="438.98" y1="62.81" x2="441.63" y2="63.73" stroke="#858585" stroke-width="0.75" />
<line x1="447.60" y1="63.55" x2="450.26" y2="64.45" stroke="#858585" stroke-width="0.75" />
<line x1="449.59" y1="66.50" x2="452.25" y2="67.42" stroke="#858585" stroke-width="0.75" />
<line x1="458.24" y1="67.17" x2="460.90" y2="68.08" stroke="#858585" stroke-width="0.75" />
<line x1="460.20" y1="70.19" x2="462.86" y2="71.11" stroke="#858585" stroke-width="0.75" />
<line x1="468.88" y1="70.80" x2="471.54" y2="71.70" stroke="#858585" stroke-width="0.75" />
<line x1="470.81" y1="73.87" x2="473.47" y2="74.80" stroke="#858585" stroke-width="0.75" />
<line x1="479.52" y1="74.42" x2="482.18" y2="75.33" stroke="#858585" stroke-width="0.75" />
<line x1="425.99" y1="52.22" x2="490.12" y2="73.21" stroke="#d6d6d6" stroke-width="0.5" />
<line x1="429.24" y1="51.28" x2="493.52" y2="71.89" stroke="#d6d6d6" stroke-width="0.5" />
<line x1="430.57" y1="51.71" x2="433.25" y2="52.57" stroke="#858585" stroke-width="0.75" />
<line x1="432.67" y1="54.40" x2="435.34" y2="55.28" stroke="#858585" stroke-width="0.75" />
<line x1="441.29" y1="55.14" x2="443.97" y2="56.00" stroke="#858585" stroke-width="0.75" />
<line x1="443.36" y1="57.90" x2="446.03" y2="58.78" stroke="#858585" stroke-width="0.75" />
<line x1="452.00" y1="58.58" x2="454.68" y2="59.44" stroke="#858585" stroke-width="0.75" />
<line x1="454.04" y1="61.40" x2="456.72" y2="62.28" stroke="#858585" stroke-width="0.75" />
<line x1="462.72" y1="62.02" x2="465.40" y2="62.87" stroke="#858585" stroke-width="0.75" />
<line x1="464.73" y1="64.90" x2="467.41" y2="65.78" stroke="#858585" stroke-width="0.75" />
<line x1="473.43" y1="65.45" x2="476.11" y2="66.31" stroke="#858585" stroke-width="0.75" />
<line x1="475.42" y1="68.40" x2="478.09" y2="69.28" stroke="#858585" stroke-width="0.75" />
<line x1="484.15" y1="68.89" x2="486.83" y2="69.75" stroke="#858585" stroke-width="0.75" />
<line x1="486.11" y1="71.90" x2="488.78" y2="72.78" stroke="#858585" stroke-width="0.75" />
<line x1="375.07" y1="66.90" x2="436.72" y2="93.94" stroke="#a0b5d3" stroke-width="1.7" />
<line x1="384.62" y1="64.14" x2="446.74" y2="90.05" stroke="#a0b5d3" stroke-width="1.7" />
<line x1="394.17" y1="61.39" x2="456.75" y2="86.16" stroke="#a0b5d3" stroke-width="1.7" />
<line x1="403.73" y1="58.63" x2="466.77" y2="82.27" stroke="#a0b5d3" stroke-width="1.7" />
<line x1="413.28" y1="55.88" x2="476.79" y2="78.39" stroke="#a0b5d3" stroke-width="1.7" />
<line x1="422.83" y1="53.13" x2="486.81" y2="74.50" stroke="#a0b5d3" stroke-width="1.7" />
<line x1="432.39" y1="50.37" x2="496.83" y2="70.61" stroke="#a0b5d3" stroke-width="1.7" />
<polygon points="375.07,66.90 436.72,93.94 436.27,131.25 374.61,97.38" fill="url(#g46)" />
<polygon points="540.61,68.46 599.06,94.50 598.60,131.92 540.14,99.31" fill="#f3f3f3" />
<line x1="542.09" y1="69.75" x2="541.64" y2="100.14" stroke="#c4c4c4" stroke-width="0.45" />
<line x1="543.59" y1="70.42" x2="543.14" y2="100.98" stroke="#c4c4c4" stroke-width="0.45" />
<line x1="545.09" y1="71.09" x2="544.64" y2="101.81" stroke="#c4c4c4" stroke-width="0.45" />
<line x1="546.59" y1="71.76" x2="546.14" y2="102.65" stroke="#c4c4c4" stroke-width="0.45" />
<line x1="548.09" y1="72.44" x2="547.64" y2="103.49" stroke="#c4c4c4" stroke-width="0.45" />
<line x1="549.59" y1="73.11" x2="549.14" y2="104.32" stroke="#c4c4c4" stroke-width="0.45" />
<line x1="551.09" y1="73.78" x2="550.64" y2="105.16" stroke="#c4c4c4" stroke-width="0.45" />
<line x1="552.59" y1="74.45" x2="552.13" y2="106.00" stroke="#c4c4c4" stroke-width="0.45" />
<line x1="554.09" y1="75.12" x2="553.63" y2="106.83" stroke="#c4c4c4" stroke-width="0.45" />
<line x1="555.58" y1="75.79" x2="555.13" y2="107.67" stroke="#c4c4c4" stroke-width="0.45" />
<line x1="557.08" y1="76.46" x2="556.63" y2="108.50" stroke="#c4c4c4" stroke-width="0.45" />
<line x1="558.58" y1="77.13" x2="558.13" y2="109.34" stroke="#c4c4c4" stroke-width="0.45" />
<line x1="560.08" y1="77.80" x2="559.63" y2="110.18" stroke="#c4c4c4" stroke-width="0.45" />
<line x1="561.58" y1="78.47" x2="561.13" y2="111.01" stroke="#c4c4c4" stroke-width="0.45" />
<line x1="563.08" y1="79.15" x2="562.63" y2="111.85" stroke="#c4c4c4" stroke-width="0.45" />
<line x1="564.58" y1="79.82" x2="564.13" y2="112.69" stroke="#c4c4c4" stroke-width="0.45" />
<line x1="566.08" y1="80.49" x2="565.62" y2="113.52" stroke="#c4c4c4" stroke-width="0.45" />
<line x1="567.57" y1="81.16" x2="567.12" y2="114.36" stroke="#c4c4c4" stroke-width="0.45" />
<line x1="569.07" y1="81.83" x2="568.62" y2="115.19" stroke="#c4c4c4" stroke-width="0.45" />
<line x1="570.57" y1="82.50" x2="570.12" y2="116.03" stroke="#c4c4c4" stroke-width="0.45" />
<line x1="572.07" y1="83.17" x2="571.62" y2="116.87" stroke="#c4c4c4" stroke-width="0.45" />
<line x1="573.57" y1="83.84" x2="573.12" y2="117.70" stroke="#c4c4c4" stroke-width="0.45" />
<line x1="575.07" y1="84.51" x2="574.62" y2="118.54" stroke="#c4c4c4" stroke-width="0.45" />
<line x1="576.57" y1="85.18" x2="576.12" y2="119.38" stroke="#c4c4c4" stroke-width="0.45" />
<line x1="578.07" y1="85.86" x2="577.62" y2="120.21" stroke="#c4c4c4" stroke-width="0.45" />
<line x1="579.56" y1="86.53" x2="579.11" y2="121.05" stroke="#c4c4c4" stroke-width="0.45" />
<line x1="581.06" y1="87.20" x2="580.61" y2="121.88" stroke="#c4c4c4" stroke-width="0.45" />
<line x1="582.56" y1="87.87" x2="582.11" y2="122.72" stroke="#c4c4c4" stroke-width="0.45" />
<line x1="584.06" y1="88.54" x2="583.61" y2="123.56" stroke="#c4c4c4" stroke-width="0.45" />
<line x1="585.56" y1="89.21" x2="585.11" y2="124.39" stroke="#c4c4c4" stroke-width="0.45" />
<line x1="587.06" y1="89.88" x2="586.61" y2="125.23" stroke="#c4c4c4" stroke-width="0.45" />
<line x1="588.56" y1="90.55" x2="588.11" y2="126.07" stroke="#c4c4c4" stroke-width="0.45" />
<line x1="590.06" y1="91.22" x2="589.61" y2="126.90" stroke="#c4c4c4" stroke-width="0.45" />
<line x1="591.56" y1="91.89" x2="591.11" y2="127.74" stroke="#c4c4c4" stroke-width="0.45" />
<line x1="593.05" y1="92.57" x2="592.60" y2="128.57" stroke="#c4c4c4" stroke-width="0.45" />
<line x1="594.55" y1="93.24" x2="594.10" y2="129.41" stroke="#c4c4c4" stroke-width="0.45" />
<line x1="596.05" y1="93.91" x2="595.60" y2="130.25" stroke="#c4c4c4" stroke-width="0.45" />
<line x1="597.55" y1="94.58" x2="597.10" y2="131.08" stroke="#c4c4c4" stroke-width="0.45" />
<line x1="541.62" y1="79.51" x2="549.01" y2="84.05" stroke="#65728a" stroke-width="1.2" />
<line x1="551.36" y1="84.23" x2="558.75" y2="88.80" stroke="#65728a" stroke-width="1.2" />
<line x1="561.10" y1="88.94" x2="568.49" y2="93.54" stroke="#65728a" stroke-width="1.2" />
<line x1="570.84" y1="93.65" x2="578.23" y2="98.29" stroke="#65728a" stroke-width="1.2" />
<line x1="580.59" y1="98.36" x2="587.98" y2="103.03" stroke="#65728a" stroke-width="1.2" />
<line x1="590.33" y1="103.08" x2="597.72" y2="107.78" stroke="#65728a" stroke-width="1.2" />
<line x1="541.40" y1="94.38" x2="548.79" y2="99.32" stroke="#65728a" stroke-width="1.2" />
<line x1="551.14" y1="99.62" x2="558.53" y2="104.59" stroke="#65728a" stroke-width="1.2" />
<line x1="560.88" y1="104.86" x2="568.27" y2="109.86" stroke="#65728a" stroke-width="1.2" />
<line x1="570.62" y1="110.10" x2="578.01" y2="115.13" stroke="#65728a" stroke-width="1.2" />
<line x1="580.37" y1="115.34" x2="587.76" y2="120.40" stroke="#65728a" stroke-width="1.2" />
<line x1="590.11" y1="120.57" x2="597.50" y2="125.67" stroke="#65728a" stroke-width="1.2" />
<line x1="540.61" y1="67.85" x2="540.14" y2="99.31" stroke="#a3b8d6" stroke-width="2.3" />
<line x1="550.36" y1="72.16" x2="549.89" y2="104.74" stroke="#a3b8d6" stroke-width="2.3" />
<line x1="560.10" y1="76.48" x2="559.63" y2="110.18" stroke="#a3b8d6" stroke-width="2.3" />
<line x1="569.84" y1="80.80" x2="569.37" y2="115.61" stroke="#a3b8d6" stroke-width="2.3" />
<line x1="579.58" y1="85.12" x2="579.11" y2="121.05" stroke="#a3b8d6" stroke-width="2.3" />
<line x1="589.33" y1="89.44" x2="588.86" y2="126.48" stroke="#a3b8d6" stroke-width="2.3" />
<line x1="599.07" y1="93.75" x2="598.60" y2="131.92" stroke="#a3b8d6" stroke-width="2.3" />
<polygon points="540.61,68.46 599.06,94.50 665.48,68.87 604.13,49.98" fill="#f5f5f5" />
<line x1="545.90" y1="66.92" x2="604.59" y2="92.37" stroke="#cfcfcf" stroke-width="0.55" />
<line x1="551.19" y1="65.38" x2="610.13" y2="90.23" stroke="#cfcfcf" stroke-width="0.55" />
<line x1="556.49" y1="63.84" x2="615.66" y2="88.09" stroke="#cfcfcf" stroke-width="0.55" />
<line x1="561.78" y1="62.30" x2="621.20" y2="85.96" stroke="#cfcfcf" stroke-width="0.55" />
<line x1="567.07" y1="60.76" x2="626.73" y2="83.82" stroke="#cfcfcf" stroke-width="0.55" />
<line x1="572.37" y1="59.22" x2="632.27" y2="81.69" stroke="#cfcfcf" stroke-width="0.55" />
<line x1="577.66" y1="57.68" x2="637.80" y2="79.55" stroke="#cfcfcf" stroke-width="0.55" />
<line x1="582.95" y1="56.14" x2="643.34" y2="77.41" stroke="#cfcfcf" stroke-width="0.55" />
<line x1="588.25" y1="54.60" x2="648.87" y2="75.28" stroke="#cfcfcf" stroke-width="0.55" />
<line x1="593.54" y1="53.06" x2="654.41" y2="73.14" stroke="#cfcfcf" stroke-width="0.55" />
<line x1="598.83" y1="51.52" x2="659.94" y2="71.01" stroke="#cfcfcf" stroke-width="0.55" />
<line x1="543.82" y1="69.90" x2="607.50" y2="51.02" stroke="#d6d6d6" stroke-width="0.5" />
<line x1="547.13" y1="71.37" x2="610.98" y2="52.09" stroke="#d6d6d6" stroke-width="0.5" />
<line x1="545.15" y1="69.50" x2="547.80" y2="68.72" stroke="#858585" stroke-width="0.75" />
<line x1="553.78" y1="69.36" x2="556.44" y2="68.56" stroke="#858585" stroke-width="0.75" />
<line x1="555.76" y1="66.36" x2="558.41" y2="65.57" stroke="#858585" stroke-width="0.75" />
<line x1="564.42" y1="66.15" x2="567.08" y2="65.35" stroke="#858585" stroke-width="0.75" />
<line x1="566.37" y1="63.21" x2="569.03" y2="62.42" stroke="#858585" stroke-width="0.75" />
<line x1="575.07" y1="62.94" x2="577.73" y2="62.13" stroke="#858585" stroke-width="0.75" />
<line x1="576.99" y1="60.06" x2="579.64" y2="59.28" stroke="#858585" stroke-width="0.75" />
<line x1="585.71" y1="59.72" x2="588.37" y2="58.92" stroke="#858585" stroke-width="0.75" />
<line x1="587.60" y1="56.92" x2="590.25" y2="56.13" stroke="#858585" stroke-width="0.75" />
<line x1="596.35" y1="56.51" x2="599.01" y2="55.71" stroke="#858585" stroke-width="0.75" />
<line x1="598.22" y1="53.77" x2="600.87" y2="52.99" stroke="#858585" stroke-width="0.75" />
<line x1="606.99" y1="53.30" x2="609.65" y2="52.49" stroke="#858585" stroke-width="0.75" />
<line x1="553.56" y1="74.23" x2="617.73" y2="54.17" stroke="#d6d6d6" stroke-width="0.5" />
<line x1="556.87" y1="75.71" x2="621.20" y2="55.24" stroke="#d6d6d6" stroke-width="0.5" />
<line x1="558.21" y1="75.28" x2="560.90" y2="74.43" stroke="#858585" stroke-width="0.75" />
<line x1="560.25" y1="72.14" x2="562.92" y2="71.31" stroke="#858585" stroke-width="0.75" />
<line x1="568.94" y1="71.87" x2="571.62" y2="71.02" stroke="#858585" stroke-width="0.75" />
<line x1="570.94" y1="68.80" x2="573.61" y2="67.96" stroke="#858585" stroke-width="0.75" />
<line x1="579.66" y1="68.46" x2="582.34" y2="67.61" stroke="#858585" stroke-width="0.75" />
<line x1="581.63" y1="65.46" x2="584.31" y2="64.62" stroke="#858585" stroke-width="0.75" />
<line x1="590.38" y1="65.05" x2="593.06" y2="64.19" stroke="#858585" stroke-width="0.75" />
<line x1="592.33" y1="62.11" x2="595.00" y2="61.27" stroke="#858585" stroke-width="0.75" />
<line x1="601.10" y1="61.64" x2="603.78" y2="60.78" stroke="#858585" stroke-width="0.75" />
<line x1="603.02" y1="58.77" x2="605.70" y2="57.93" stroke="#858585" stroke-width="0.75" />
<line x1="611.82" y1="58.22" x2="614.50" y2="57.37" stroke="#858585" stroke-width="0.75" />
<line x1="613.72" y1="55.42" x2="616.39" y2="54.59" stroke="#858585" stroke-width="0.75" />
<line x1="563.30" y1="78.57" x2="627.95" y2="57.32" stroke="#d6d6d6" stroke-width="0.5" />
<line x1="566.62" y1="80.05" x2="631.43" y2="58.39" stroke="#d6d6d6" stroke-width="0.5" />
<line x1="564.65" y1="78.13" x2="567.34" y2="77.25" stroke="#858585" stroke-width="0.75" />
<line x1="573.37" y1="77.79" x2="576.07" y2="76.89" stroke="#858585" stroke-width="0.75" />
<line x1="575.43" y1="74.59" x2="578.12" y2="73.70" stroke="#858585" stroke-width="0.75" />
<line x1="584.17" y1="74.18" x2="586.87" y2="73.28" stroke="#858585" stroke-width="0.75" />
<line x1="586.20" y1="71.05" x2="588.89" y2="70.16" stroke="#858585" stroke-width="0.75" />
<line x1="594.97" y1="70.57" x2="597.67" y2="69.67" stroke="#858585" stroke-width="0.75" />
<line x1="596.98" y1="67.50" x2="599.67" y2="66.62" stroke="#858585" stroke-width="0.75" />
<line x1="605.77" y1="66.96" x2="608.47" y2="66.06" stroke="#858585" stroke-width="0.75" />
<line x1="607.75" y1="63.96" x2="610.44" y2="63.07" stroke="#858585" stroke-width="0.75" />
<line x1="616.58" y1="63.35" x2="619.28" y2="62.45" stroke="#858585" stroke-width="0.75" />
<line x1="618.52" y1="60.42" x2="621.22" y2="59.53" stroke="#858585" stroke-width="0.75" />
<line x1="627.38" y1="59.74" x2="630.08" y2="58.84" stroke="#858585" stroke-width="0.75" />
<line x1="573.05" y1="82.91" x2="638.18" y2="60.46" stroke="#d6d6d6" stroke-width="0.5" />
<line x1="576.36" y1="84.39" x2="641.65" y2="61.53" stroke="#d6d6d6" stroke-width="0.5" />
<line x1="577.72" y1="83.91" x2="580.44" y2="82.96" stroke="#858585" stroke-width="0.75" />
<line x1="579.83" y1="80.58" x2="582.54" y2="79.64" stroke="#858585" stroke-width="0.75" />
<line x1="588.60" y1="80.10" x2="591.32" y2="79.15" stroke="#858585" stroke-width="0.75" />
<line x1="590.69" y1="76.83" x2="593.40" y2="75.90" stroke="#858585" stroke-width="0.75" />
<line x1="599.48" y1="76.30" x2="602.20" y2="75.34" stroke="#858585" stroke-width="0.75" />
<line x1="601.54" y1="73.09" x2="604.26" y2="72.16" stroke="#858585" stroke-width="0.75" />
<line x1="610.37" y1="72.49" x2="613.09" y2="71.53" stroke="#858585" stroke-width="0.75" />
<line x1="612.40" y1="69.35" x2="615.11" y2="68.42" stroke="#858585" stroke-width="0.75" />
<line x1="621.25" y1="68.68" x2="623.97" y2="67.72" stroke="#858585" stroke-width="0.75" />
<line x1="623.25" y1="65.61" x2="625.97" y2="64.67" stroke="#858585" stroke-width="0.75" />
<line x1="632.13" y1="64.87" x2="634.85" y2="63.92" stroke="#858585" stroke-width="0.75" />
<line x1="634.11" y1="61.87" x2="636.82" y2="60.93" stroke="#858585" stroke-width="0.75" />
<line x1="582.79" y1="87.25" x2="648.40" y2="63.61" stroke="#d6d6d6" stroke-width="0.5" />
<line x1="586.10" y1="88.73" x2="651.88" y2="64.68" stroke="#d6d6d6" stroke-width="0.5" />
<line x1="584.16" y1="86.76" x2="586.89" y2="85.78" stroke="#858585" stroke-width="0.75" />
<line x1="592.95" y1="86.22" x2="595.69" y2="85.22" stroke="#858585" stroke-width="0.75" />
<line x1="595.09" y1="82.82" x2="597.83" y2="81.84" stroke="#858585" stroke-width="0.75" />
<line x1="603.92" y1="82.22" x2="606.66" y2="81.21" stroke="#858585" stroke-width="0.75" />
<line x1="606.03" y1="78.88" x2="608.76" y2="77.90" stroke="#858585" stroke-width="0.75" />
<line x1="614.88" y1="78.21" x2="617.62" y2="77.21" stroke="#858585" stroke-width="0.75" />
<line x1="616.96" y1="74.94" x2="619.70" y2="73.96" stroke="#858585" stroke-width="0.75" />
<line x1="625.84" y1="74.20" x2="628.58" y2="73.20" stroke="#858585" stroke-width="0.75" />
<line x1="627.90" y1="71.00" x2="630.63" y2="70.02" stroke="#858585" stroke-width="0.75" />
<line x1="636.80" y1="70.19" x2="639.55" y2="69.19" stroke="#858585" stroke-width="0.75" />
<line x1="638.83" y1="67.06" x2="641.57" y2="66.08" stroke="#858585" stroke-width="0.75" />
<line x1="647.77" y1="66.19" x2="650.51" y2="65.18" stroke="#858585" stroke-width="0.75" />
<line x1="592.53" y1="91.59" x2="658.63" y2="66.76" stroke="#d6d6d6" stroke-width="0.5" />
<line x1="595.84" y1="93.07" x2="662.10" y2="67.83" stroke="#d6d6d6" stroke-width="0.5" />
<line x1="597.22" y1="92.54" x2="599.98" y2="91.49" stroke="#858585" stroke-width="0.75" />
<line x1="599.42" y1="89.01" x2="602.17" y2="87.97" stroke="#858585" stroke-width="0.75" />
<line x1="608.27" y1="88.34" x2="611.03" y2="87.29" stroke="#858585" stroke-width="0.75" />
<line x1="610.43" y1="84.87" x2="613.19" y2="83.83" stroke="#858585" stroke-width="0.75" />
<line x1="619.31" y1="84.13" x2="622.07" y2="83.08" stroke="#858585" stroke-width="0.75" />
<line x1="621.45" y1="80.73" x2="624.20" y2="79.69" stroke="#858585" stroke-width="0.75" />
<line x1="630.35" y1="79.92" x2="633.11" y2="78.87" stroke="#858585" stroke-width="0.75" />
<line x1="632.46" y1="76.59" x2="635.22" y2="75.56" stroke="#858585" stroke-width="0.75" />
<line x1="641.40" y1="75.72" x2="644.16" y2="74.67" stroke="#858585" stroke-width="0.75" />
<line x1="643.48" y1="72.45" x2="646.23" y2="71.42" stroke="#858585" stroke-width="0.75" />
<line x1="652.44" y1="71.51" x2="655.20" y2="70.46" stroke="#858585" stroke-width="0.75" />
<line x1="654.50" y1="68.31" x2="657.25" y2="67.28" stroke="#858585" stroke-width="0.75" />
<line x1="540.61" y1="68.46" x2="604.13" y2="49.98" stroke="#a0b5d3" stroke-width="1.7" />
<line x1="550.35" y1="72.80" x2="614.35" y2="53.13" stroke="#a0b5d3" stroke-width="1.7" />
<line x1="560.09" y1="77.14" x2="624.58" y2="56.28" stroke="#a0b5d3" stroke-width="1.7" />
<line x1="569.83" y1="81.48" x2="634.80" y2="59.43" stroke="#a0b5d3" stroke-width="1.7" />
<line x1="579.57" y1="85.82" x2="645.03" y2="62.57" stroke="#a0b5d3" stroke-width="1.7" />
<line x1="589.32" y1="90.16" x2="655.25" y2="65.72" stroke="#a0b5d3" stroke-width="1.7" />
<line x1="599.06" y1="94.50" x2="665.48" y2="68.87" stroke="#a0b5d3" stroke-width="1.7" />
<polygon points="599.06,94.50 665.48,68.87 665.18,100.76 598.60,131.92" fill="url(#g47)" />
<polygon points="282.90,65.10 292.10,57.80 292.10,90.00 282.90,99.00" fill="#f3f3f3" />
<line x1="284.21" y1="64.73" x2="284.21" y2="97.71" stroke="#c4c4c4" stroke-width="0.45" />
<line x1="285.53" y1="63.68" x2="285.53" y2="96.43" stroke="#c4c4c4" stroke-width="0.45" />
<line x1="286.84" y1="62.63" x2="286.84" y2="95.14" stroke="#c4c4c4" stroke-width="0.45" />
<line x1="288.16" y1="61.59" x2="288.16" y2="93.86" stroke="#c4c4c4" stroke-width="0.45" />
<line x1="289.47" y1="60.54" x2="289.47" y2="92.57" stroke="#c4c4c4" stroke-width="0.45" />
<line x1="290.79" y1="59.49" x2="290.79" y2="91.29" stroke="#c4c4c4" stroke-width="0.45" />
<line x1="283.08" y1="76.47" x2="287.32" y2="73.84" stroke="#65728a" stroke-width="1.2" />
<line x1="287.68" y1="72.53" x2="291.92" y2="69.87" stroke="#65728a" stroke-width="1.2" />
<line x1="283.08" y1="92.72" x2="287.32" y2="89.72" stroke="#65728a" stroke-width="1.2" />
<line x1="287.68" y1="88.38" x2="291.92" y2="85.34" stroke="#65728a" stroke-width="1.2" />
<line x1="282.90" y1="64.42" x2="282.90" y2="99.00" stroke="#a3b8d6" stroke-width="2.3" />
<line x1="287.50" y1="60.79" x2="287.50" y2="94.50" stroke="#a3b8d6" stroke-width="2.3" />
<line x1="292.10" y1="57.16" x2="292.10" y2="90.00" stroke="#a3b8d6" stroke-width="2.3" />
<polygon points="248.80,61.60 282.90,65.10 292.10,57.80 259.50,54.20" fill="#f5f5f5" />
<line x1="259.50" y1="54.20" x2="292.10" y2="57.80" stroke="#9fb6d6" stroke-width="1.3" />
<line x1="254.20" y1="57.90" x2="287.50" y2="61.40" stroke="#9fb6d6" stroke-width="1.3" />
<polygon points="248.80,61.60 282.90,65.10 282.90,99.00 248.80,96.00" fill="url(#g48)" />
<polygon points="213.00,73.90 237.20,79.30 237.20,111.50 213.60,106.40" fill="#f3f3f3" />
<line x1="214.62" y1="74.91" x2="215.17" y2="106.74" stroke="#c4c4c4" stroke-width="0.45" />
<line x1="216.24" y1="75.27" x2="216.75" y2="107.08" stroke="#c4c4c4" stroke-width="0.45" />
<line x1="217.85" y1="75.63" x2="218.32" y2="107.42" stroke="#c4c4c4" stroke-width="0.45" />
<line x1="219.46" y1="75.99" x2="219.89" y2="107.76" stroke="#c4c4c4" stroke-width="0.45" />
<line x1="221.07" y1="76.35" x2="221.47" y2="108.10" stroke="#c4c4c4" stroke-width="0.45" />
<line x1="222.69" y1="76.71" x2="223.04" y2="108.44" stroke="#c4c4c4" stroke-width="0.45" />
<line x1="224.30" y1="77.07" x2="224.61" y2="108.78" stroke="#c4c4c4" stroke-width="0.45" />
<line x1="225.91" y1="77.43" x2="226.19" y2="109.12" stroke="#c4c4c4" stroke-width="0.45" />
<line x1="227.52" y1="77.79" x2="227.76" y2="109.46" stroke="#c4c4c4" stroke-width="0.45" />
<line x1="229.14" y1="78.15" x2="229.33" y2="109.80" stroke="#c4c4c4" stroke-width="0.45" />
<line x1="230.75" y1="78.51" x2="230.91" y2="110.14" stroke="#c4c4c4" stroke-width="0.45" />
<line x1="232.36" y1="78.87" x2="232.48" y2="110.48" stroke="#c4c4c4" stroke-width="0.45" />
<line x1="233.97" y1="79.22" x2="234.05" y2="110.82" stroke="#c4c4c4" stroke-width="0.45" />
<line x1="235.59" y1="79.58" x2="235.63" y2="111.16" stroke="#c4c4c4" stroke-width="0.45" />
<line x1="213.68" y1="85.06" x2="225.45" y2="88.62" stroke="#65728a" stroke-width="1.2" />
<line x1="226.40" y1="87.86" x2="236.72" y2="91.11" stroke="#65728a" stroke-width="1.2" />
<line x1="213.97" y1="100.65" x2="225.59" y2="104.15" stroke="#65728a" stroke-width="1.2" />
<line x1="226.53" y1="103.38" x2="236.73" y2="106.57" stroke="#65728a" stroke-width="1.2" />
<line x1="212.99" y1="73.25" x2="213.60" y2="106.40" stroke="#a3b8d6" stroke-width="3.6" />
<line x1="225.82" y1="76.12" x2="226.11" y2="109.10" stroke="#a3b8d6" stroke-width="3.6" />
<line x1="237.20" y1="78.66" x2="237.20" y2="111.50" stroke="#a3b8d6" stroke-width="3.6" />
<polygon points="211.30,73.70 237.20,79.30 256.50,68.00 233.90,63.50" fill="#f5f5f5" />
<line x1="215.82" y1="71.66" x2="241.06" y2="77.04" stroke="#cfcfcf" stroke-width="0.55" />
<line x1="220.34" y1="69.62" x2="244.92" y2="74.78" stroke="#cfcfcf" stroke-width="0.55" />
<line x1="224.86" y1="67.58" x2="248.78" y2="72.52" stroke="#cfcfcf" stroke-width="0.55" />
<line x1="229.38" y1="65.54" x2="252.64" y2="70.26" stroke="#cfcfcf" stroke-width="0.55" />
<line x1="215.57" y1="74.62" x2="237.63" y2="64.24" stroke="#d6d6d6" stroke-width="0.5" />
<line x1="219.98" y1="75.58" x2="241.47" y2="65.01" stroke="#d6d6d6" stroke-width="0.5" />
<line x1="216.68" y1="74.10" x2="218.88" y2="73.07" stroke="#858585" stroke-width="0.75" />
<line x1="225.35" y1="72.93" x2="227.50" y2="71.88" stroke="#858585" stroke-width="0.75" />
<line x1="225.50" y1="69.95" x2="227.70" y2="68.91" stroke="#858585" stroke-width="0.75" />
<line x1="233.95" y1="68.71" x2="236.10" y2="67.65" stroke="#858585" stroke-width="0.75" />
<line x1="234.32" y1="65.80" x2="236.53" y2="64.76" stroke="#858585" stroke-width="0.75" />
<line x1="228.52" y1="77.42" x2="248.93" y2="66.49" stroke="#d6d6d6" stroke-width="0.5" />
<line x1="232.93" y1="78.38" x2="252.77" y2="67.26" stroke="#d6d6d6" stroke-width="0.5" />
<line x1="233.92" y1="77.82" x2="235.90" y2="76.71" stroke="#858585" stroke-width="0.75" />
<line x1="233.62" y1="74.69" x2="235.67" y2="73.60" stroke="#858585" stroke-width="0.75" />
<line x1="241.86" y1="73.37" x2="243.84" y2="72.26" stroke="#858585" stroke-width="0.75" />
<line x1="241.79" y1="70.32" x2="243.83" y2="69.23" stroke="#858585" stroke-width="0.75" />
<line x1="249.79" y1="68.93" x2="251.78" y2="67.81" stroke="#858585" stroke-width="0.75" />
<line x1="211.30" y1="73.70" x2="233.90" y2="63.50" stroke="#a0b5d3" stroke-width="1.7" />
<line x1="224.25" y1="76.50" x2="245.20" y2="65.75" stroke="#a0b5d3" stroke-width="1.7" />
<line x1="237.20" y1="79.30" x2="256.50" y2="68.00" stroke="#a0b5d3" stroke-width="1.7" />
<polygon points="237.20,79.30 256.50,68.00 256.50,100.50 237.20,111.50" fill="url(#g49)" />
<polygon points="278.60,73.80 298.50,81.90 298.50,114.10 278.60,106.00" fill="#f3f3f3" />
<line x1="280.13" y1="75.07" x2="280.13" y2="106.62" stroke="#c4c4c4" stroke-width="0.45" />
<line x1="281.66" y1="75.69" x2="281.66" y2="107.25" stroke="#c4c4c4" stroke-width="0.45" />
<line x1="283.19" y1="76.31" x2="283.19" y2="107.87" stroke="#c4c4c4" stroke-width="0.45" />
<line x1="284.72" y1="76.94" x2="284.72" y2="108.49" stroke="#c4c4c4" stroke-width="0.45" />
<line x1="286.25" y1="77.56" x2="286.25" y2="109.12" stroke="#c4c4c4" stroke-width="0.45" />
<line x1="287.78" y1="78.18" x2="287.78" y2="109.74" stroke="#c4c4c4" stroke-width="0.45" />
<line x1="289.32" y1="78.81" x2="289.32" y2="110.36" stroke="#c4c4c4" stroke-width="0.45" />
<line x1="290.85" y1="79.43" x2="290.85" y2="110.98" stroke="#c4c4c4" stroke-width="0.45" />
<line x1="292.38" y1="80.05" x2="292.38" y2="111.61" stroke="#c4c4c4" stroke-width="0.45" />
<line x1="293.91" y1="80.67" x2="293.91" y2="112.23" stroke="#c4c4c4" stroke-width="0.45" />
<line x1="295.44" y1="81.30" x2="295.44" y2="112.85" stroke="#c4c4c4" stroke-width="0.45" />
<line x1="296.97" y1="81.92" x2="296.97" y2="113.48" stroke="#c4c4c4" stroke-width="0.45" />
<line x1="279.00" y1="84.91" x2="288.15" y2="89.60" stroke="#65728a" stroke-width="1.2" />
<line x1="288.95" y1="88.96" x2="298.10" y2="93.65" stroke="#65728a" stroke-width="1.2" />
<line x1="279.00" y1="100.37" x2="288.15" y2="105.06" stroke="#65728a" stroke-width="1.2" />
<line x1="288.95" y1="104.42" x2="298.10" y2="109.11" stroke="#65728a" stroke-width="1.2" />
<line x1="278.60" y1="73.16" x2="278.60" y2="106.00" stroke="#a3b8d6" stroke-width="2.3" />
<line x1="288.55" y1="77.21" x2="288.55" y2="110.05" stroke="#a3b8d6" stroke-width="2.3" />
<line x1="298.50" y1="81.26" x2="298.50" y2="114.10" stroke="#a3b8d6" stroke-width="2.3" />
<polygon points="278.60,73.80 298.50,81.90 326.40,71.70 304.40,65.20" fill="#f5f5f5" />
<line x1="283.76" y1="72.08" x2="304.08" y2="79.86" stroke="#cfcfcf" stroke-width="0.55" />
<line x1="288.92" y1="70.36" x2="309.66" y2="77.82" stroke="#cfcfcf" stroke-width="0.55" />
<line x1="294.08" y1="68.64" x2="315.24" y2="75.78" stroke="#cfcfcf" stroke-width="0.55" />
<line x1="299.24" y1="66.92" x2="320.82" y2="73.74" stroke="#cfcfcf" stroke-width="0.55" />
<line x1="281.88" y1="75.14" x2="308.03" y2="66.27" stroke="#d6d6d6" stroke-width="0.5" />
<line x1="285.27" y1="76.51" x2="311.77" y2="67.38" stroke="#d6d6d6" stroke-width="0.5" />
<line x1="283.19" y1="74.69" x2="285.81" y2="73.81" stroke="#858585" stroke-width="0.75" />
<line x1="291.89" y1="74.23" x2="294.54" y2="73.32" stroke="#858585" stroke-width="0.75" />
<line x1="293.65" y1="71.15" x2="296.26" y2="70.26" stroke="#858585" stroke-width="0.75" />
<line x1="302.49" y1="70.58" x2="305.14" y2="69.66" stroke="#858585" stroke-width="0.75" />
<line x1="304.11" y1="67.60" x2="306.72" y2="66.72" stroke="#858585" stroke-width="0.75" />
<line x1="291.83" y1="79.19" x2="319.03" y2="69.52" stroke="#d6d6d6" stroke-width="0.5" />
<line x1="295.22" y1="80.56" x2="322.77" y2="70.63" stroke="#d6d6d6" stroke-width="0.5" />
<line x1="296.59" y1="80.07" x2="299.35" y2="79.07" stroke="#858585" stroke-width="0.75" />
<line x1="298.63" y1="76.77" x2="301.35" y2="75.80" stroke="#858585" stroke-width="0.75" />
<line x1="307.62" y1="76.09" x2="310.37" y2="75.10" stroke="#858585" stroke-width="0.75" />
<line x1="309.51" y1="72.90" x2="312.23" y2="71.94" stroke="#858585" stroke-width="0.75" />
<line x1="318.64" y1="72.12" x2="321.39" y2="71.12" stroke="#858585" stroke-width="0.75" />
<line x1="278.60" y1="73.80" x2="304.40" y2="65.20" stroke="#a0b5d3" stroke-width="1.7" />
<line x1="288.55" y1="77.85" x2="315.40" y2="68.45" stroke="#a0b5d3" stroke-width="1.7" />
<line x1="298.50" y1="81.90" x2="326.40" y2="71.70" stroke="#a0b5d3" stroke-width="1.7" />
<polygon points="298.50,81.90 326.40,71.70 323.70,104.40 298.50,114.10" fill="url(#g50)" />
<polygon points="287.80,89.90 289.80,79.50 289.50,118.00 287.30,127.30" fill="#f3f3f3" />
<line x1="288.79" y1="85.46" x2="288.40" y2="122.65" stroke="#c4c4c4" stroke-width="0.45" />
<polygon points="249.00,78.50 289.80,79.50 287.80,89.90 244.50,88.90" fill="#f5f5f5" />
<line x1="249.00" y1="78.50" x2="289.80" y2="79.50" stroke="#9fb6d6" stroke-width="1.3" />
<line x1="245.50" y1="84.50" x2="288.80" y2="85.00" stroke="#9fb6d6" stroke-width="1.3" />
<polygon points="244.50,88.90 287.80,89.90 287.30,127.30 244.50,124.80" fill="url(#g51)" />
<polygon points="263.20,81.30 265.80,81.30 264.50,79.40" fill="#7b8daa" /><line x1="264.50" y1="79.40" x2="264.50" y2="78.20" stroke="#7b8daa" stroke-width="0.6" />
<polygon points="273.80,81.50 276.40,81.50 275.10,79.60" fill="#7b8daa" /><line x1="275.10" y1="79.60" x2="275.10" y2="78.40" stroke="#7b8daa" stroke-width="0.6" />
<polygon points="284.00,81.70 286.60,81.70 285.30,79.80" fill="#7b8daa" /><line x1="285.30" y1="79.80" x2="285.30" y2="78.60" stroke="#7b8daa" stroke-width="0.6" />
<polygon points="261.00,87.50 263.60,87.50 262.30,85.60" fill="#7b8daa" /><line x1="262.30" y1="85.60" x2="262.30" y2="84.40" stroke="#7b8daa" stroke-width="0.6" />
<polygon points="272.00,87.70 274.60,87.70 273.30,85.80" fill="#7b8daa" /><line x1="273.30" y1="85.80" x2="273.30" y2="84.60" stroke="#7b8daa" stroke-width="0.6" />
<polygon points="282.90,87.90 285.50,87.90 284.20,86.00" fill="#7b8daa" /><line x1="284.20" y1="86.00" x2="284.20" y2="84.80" stroke="#7b8daa" stroke-width="0.6" />
<polygon points="268.50,126.20 287.60,128.00 287.60,130.20 276.00,129.40 269.00,128.00" fill="#6d6d6d" opacity="0.55"/>
<polygon points="304.00,112.30 316.00,107.60 316.00,109.40 305.00,113.60" fill="#6d6d6d" opacity="0.45"/>
<text x="2.4" y="16.6" font-size="17.5" textLength="7.6" lengthAdjust="spacingAndGlyphs" fill="#231f20" stroke-width="0">a</text>
<text x="190.3" y="15.8" font-size="17.5" fill="#231f20" stroke-width="0">b</text>
<text x="2.6" y="163.3" font-size="17.5" fill="#231f20" stroke-width="0">c</text>
<text x="2.0" y="391.9" font-size="17.5" fill="#231f20" stroke-width="0">d</text>
<text x="30.4" y="29.4" font-size="14.2" textLength="95.8" lengthAdjust="spacingAndGlyphs" fill="#231f20" >Grooved PDMS</text>
<text x="204.9" y="29.4" font-size="14.2" textLength="126.7" lengthAdjust="spacingAndGlyphs" fill="#231f20" >Random orientation</text>
<text x="377.8" y="29.4" font-size="14.2" textLength="118.3" lengthAdjust="spacingAndGlyphs" fill="#231f20" >Parallel orientation</text>
<text x="522.4" y="29.4" font-size="14.2" textLength="161.3" lengthAdjust="spacingAndGlyphs" fill="#231f20" >Perpendicular orientation</text>
<text x="142.8" y="73.7" font-size="11.8" textLength="54.9" lengthAdjust="spacingAndGlyphs" fill="#231f20" >Directional</text>
<text x="149.3" y="87.1" font-size="11.8" textLength="41.4" lengthAdjust="spacingAndGlyphs" fill="#231f20" >freezing</text>
<rect x="52.8" y="176.83" width="172.97" height="172.97" fill="#f1f1f1"/>
<line x1="62.23" y1="176.83" x2="62.23" y2="349.80" stroke="#e1e1e1" stroke-width="1" stroke-dasharray="4.6 4.6" stroke-dashoffset="0.3"/>
<line x1="52.80" y1="340.37" x2="225.77" y2="340.37" stroke="#dadada" stroke-width="1" stroke-dasharray="4.8 4.4" stroke-dashoffset="0.9"/>
<line x1="68.52" y1="176.83" x2="68.52" y2="349.80" stroke="#e1e1e1" stroke-width="1" stroke-dasharray="4.6 4.6" stroke-dashoffset="0.3"/>
<line x1="52.80" y1="334.07" x2="225.77" y2="334.07" stroke="#dadada" stroke-width="1" stroke-dasharray="4.8 4.4" stroke-dashoffset="0.9"/>
<line x1="84.25" y1="176.83" x2="84.25" y2="349.80" stroke="#e1e1e1" stroke-width="1" stroke-dasharray="4.6 4.6" stroke-dashoffset="0.3"/>
<line x1="52.80" y1="318.35" x2="225.77" y2="318.35" stroke="#dadada" stroke-width="1" stroke-dasharray="4.8 4.4" stroke-dashoffset="0.9"/>
<line x1="131.43" y1="176.83" x2="131.43" y2="349.80" stroke="#e1e1e1" stroke-width="1" stroke-dasharray="4.6 4.6" stroke-dashoffset="0.3"/>
<line x1="52.80" y1="271.18" x2="225.77" y2="271.18" stroke="#dadada" stroke-width="1" stroke-dasharray="4.8 4.4" stroke-dashoffset="0.9"/>
<line x1="210.05" y1="176.83" x2="210.05" y2="349.80" stroke="#e1e1e1" stroke-width="1" stroke-dasharray="4.6 4.6" stroke-dashoffset="0.3"/>
<line x1="52.80" y1="192.55" x2="225.77" y2="192.55" stroke="#dadada" stroke-width="1" stroke-dasharray="4.8 4.4" stroke-dashoffset="0.9"/>
<line x1="52.80" y1="349.80" x2="225.77" y2="176.83" stroke="#707070" stroke-width="0.95" stroke-dasharray="4.6 4.8" stroke-dashoffset="4"/>
<line x1="52.80" y1="349.80" x2="52.80" y2="346.60" stroke="#231f20" stroke-width="1.1"/>
<line x1="52.80" y1="349.80" x2="56.00" y2="349.80" stroke="#231f20" stroke-width="1.1"/>
<line x1="68.52" y1="349.80" x2="68.52" y2="348.00" stroke="#231f20" stroke-width="1.1"/>
<line x1="52.80" y1="334.07" x2="54.60" y2="334.07" stroke="#231f20" stroke-width="1.1"/>
<line x1="84.25" y1="349.80" x2="84.25" y2="346.60" stroke="#231f20" stroke-width="1.1"/>
<line x1="52.80" y1="318.35" x2="56.00" y2="318.35" stroke="#231f20" stroke-width="1.1"/>
<line x1="99.97" y1="349.80" x2="99.97" y2="348.00" stroke="#231f20" stroke-width="1.1"/>
<line x1="52.80" y1="302.62" x2="54.60" y2="302.62" stroke="#231f20" stroke-width="1.1"/>
<line x1="115.70" y1="349.80" x2="115.70" y2="346.60" stroke="#231f20" stroke-width="1.1"/>
<line x1="52.80" y1="286.90" x2="56.00" y2="286.90" stroke="#231f20" stroke-width="1.1"/>
<line x1="131.43" y1="349.80" x2="131.43" y2="348.00" stroke="#231f20" stroke-width="1.1"/>
<line x1="52.80" y1="271.18" x2="54.60" y2="271.18" stroke="#231f20" stroke-width="1.1"/>
<line x1="147.15" y1="349.80" x2="147.15" y2="346.60" stroke="#231f20" stroke-width="1.1"/>
<line x1="52.80" y1="255.45" x2="56.00" y2="255.45" stroke="#231f20" stroke-width="1.1"/>
<line x1="162.88" y1="349.80" x2="162.88" y2="348.00" stroke="#231f20" stroke-width="1.1"/>
<line x1="52.80" y1="239.73" x2="54.60" y2="239.73" stroke="#231f20" stroke-width="1.1"/>
<line x1="178.60" y1="349.80" x2="178.60" y2="346.60" stroke="#231f20" stroke-width="1.1"/>
<line x1="52.80" y1="224.00" x2="56.00" y2="224.00" stroke="#231f20" stroke-width="1.1"/>
<line x1="194.32" y1="349.80" x2="194.32" y2="348.00" stroke="#231f20" stroke-width="1.1"/>
<line x1="52.80" y1="208.28" x2="54.60" y2="208.28" stroke="#231f20" stroke-width="1.1"/>
<line x1="210.05" y1="349.80" x2="210.05" y2="346.60" stroke="#231f20" stroke-width="1.1"/>
<line x1="52.80" y1="192.55" x2="56.00" y2="192.55" stroke="#231f20" stroke-width="1.1"/>
<line x1="225.77" y1="349.80" x2="225.77" y2="348.00" stroke="#231f20" stroke-width="1.1"/>
<line x1="52.80" y1="176.83" x2="54.60" y2="176.83" stroke="#231f20" stroke-width="1.1"/>
<path d="M58.53,330.38L65.94,337.77M58.53,337.77L65.94,330.38" stroke="#000" stroke-width="1.35" fill="none"/>
<path d="M64.82,330.38L72.22,337.77M64.82,337.77L72.22,330.38" stroke="#000" stroke-width="1.35" fill="none"/>
<path d="M80.55,330.38L87.95,337.77M80.55,337.77L87.95,330.38" stroke="#000" stroke-width="1.35" fill="none"/>
<path d="M127.73,330.38L135.12,337.77M127.73,337.77L135.12,330.38" stroke="#000" stroke-width="1.35" fill="none"/>
<path d="M206.35,330.38L213.75,337.77M206.35,337.77L213.75,330.38" stroke="#000" stroke-width="1.35" fill="none"/>
<path d="M58.53,336.67L65.94,344.06M58.53,344.06L65.94,336.67" stroke="#000" stroke-width="1.35" fill="none"/>
<path d="M64.82,336.67L72.22,344.06M64.82,344.06L72.22,336.67" stroke="#000" stroke-width="1.35" fill="none"/>
<path d="M80.55,336.67L87.95,344.06M80.55,344.06L87.95,336.67" stroke="#000" stroke-width="1.35" fill="none"/>
<path d="M127.73,336.67L135.12,344.06M127.73,344.06L135.12,336.67" stroke="#000" stroke-width="1.35" fill="none"/>
<path d="M206.35,336.67L213.75,344.06M206.35,344.06L213.75,336.67" stroke="#000" stroke-width="1.35" fill="none"/>
<path d="M58.53,188.85L65.94,196.25M58.53,196.25L65.94,188.85" stroke="#000" stroke-width="1.35" fill="none"/>
<path d="M64.82,188.85L72.22,196.25M64.82,196.25L72.22,188.85" stroke="#000" stroke-width="1.35" fill="none"/>
<path d="M84.25,188.70V195.75M80.35,195.75H88.15" stroke="#c8441c" stroke-width="1.35" fill="none"/>
<path d="M131.43,188.70V195.75M127.53,195.75H135.33" stroke="#c8441c" stroke-width="1.35" fill="none"/>
<path d="M206.35,188.85L213.75,196.25M206.35,196.25L213.75,188.85" stroke="#000" stroke-width="1.35" fill="none"/>
<path d="M58.63,273.88L61.93,267.48M62.54,274.58L65.84,268.18" stroke="#c8441c" stroke-width="1.45" fill="none"/>
<path d="M64.92,273.88L68.22,267.48M68.82,274.58L72.12,268.18" stroke="#c8441c" stroke-width="1.45" fill="none"/>
<path d="M84.25,267.32V274.38M80.35,274.38H88.15" stroke="#c8441c" stroke-width="1.35" fill="none"/>
<path d="M131.43,267.32V274.38M127.53,274.38H135.33" stroke="#c8441c" stroke-width="1.35" fill="none"/>
<path d="M210.05,267.32V274.38M206.15,274.38H213.95" stroke="#c8441c" stroke-width="1.35" fill="none"/>
<path d="M58.53,314.65L65.94,322.05M58.53,322.05L65.94,314.65" stroke="#000" stroke-width="1.35" fill="none"/>
<path d="M64.82,314.65L72.22,322.05M64.82,322.05L72.22,314.65" stroke="#000" stroke-width="1.35" fill="none"/>
<path d="M84.25,314.50V321.55M80.35,321.55H88.15" stroke="#c8441c" stroke-width="1.35" fill="none"/>
<path d="M131.43,314.50V321.55M127.53,321.55H135.33" stroke="#c8441c" stroke-width="1.35" fill="none"/>
<path d="M210.05,314.50V321.55M206.15,321.55H213.95" stroke="#c8441c" stroke-width="1.35" fill="none"/>
<rect x="52.80" y="176.83" width="172.97" height="172.97" fill="none" stroke="#231f20" stroke-width="1.5"/>
<text x="53.30" y="362.90" font-size="13" text-anchor="middle" fill="#231f20" >0</text>
<text x="49.80" y="354.20" font-size="13" text-anchor="end" fill="#231f20" >0</text>
<text x="84.75" y="362.90" font-size="13" text-anchor="middle" fill="#231f20" >10</text>
<text x="49.80" y="322.75" font-size="13" text-anchor="end" fill="#231f20" >10</text>
<text x="116.20" y="362.90" font-size="13" text-anchor="middle" fill="#231f20" >20</text>
<text x="49.80" y="291.30" font-size="13" text-anchor="end" fill="#231f20" >20</text>
<text x="147.65" y="362.90" font-size="13" text-anchor="middle" fill="#231f20" >30</text>
<text x="49.80" y="259.85" font-size="13" text-anchor="end" fill="#231f20" >30</text>
<text x="179.10" y="362.90" font-size="13" text-anchor="middle" fill="#231f20" >40</text>
<text x="49.80" y="228.40" font-size="13" text-anchor="end" fill="#231f20" >40</text>
<text x="210.55" y="362.90" font-size="13" text-anchor="middle" fill="#231f20" >50</text>
<text x="49.80" y="196.95" font-size="13" text-anchor="end" fill="#231f20" >50</text>
<text x="139.29" y="169.4" font-size="12.8" text-anchor="middle" fill="#231f20" textLength="96.3" lengthAdjust="spacingAndGlyphs">GO nanosheets</text>
<text x="139.29" y="379.3" font-size="12.8" text-anchor="middle" fill="#231f20" textLength="102" lengthAdjust="spacingAndGlyphs">Distance, <tspan font-style="italic">D</tspan> (μm)</text>
<text transform="translate(25.20,263.31) rotate(-90)" x="0" y="0" font-size="12.8" text-anchor="middle" fill="#231f20" textLength="90.5" lengthAdjust="spacingAndGlyphs">Width, <tspan font-style="italic">W</tspan> (μm)</text>
<rect x="277.3" y="176.83" width="172.97" height="172.97" fill="#f1f1f1"/>
<line x1="286.74" y1="176.83" x2="286.74" y2="349.80" stroke="#e1e1e1" stroke-width="1" stroke-dasharray="4.6 4.6" stroke-dashoffset="0.3"/>
<line x1="277.30" y1="340.37" x2="450.27" y2="340.37" stroke="#dadada" stroke-width="1" stroke-dasharray="4.8 4.4" stroke-dashoffset="0.9"/>
<line x1="293.03" y1="176.83" x2="293.03" y2="349.80" stroke="#e1e1e1" stroke-width="1" stroke-dasharray="4.6 4.6" stroke-dashoffset="0.3"/>
<line x1="277.30" y1="334.07" x2="450.27" y2="334.07" stroke="#dadada" stroke-width="1" stroke-dasharray="4.8 4.4" stroke-dashoffset="0.9"/>
<line x1="308.75" y1="176.83" x2="308.75" y2="349.80" stroke="#e1e1e1" stroke-width="1" stroke-dasharray="4.6 4.6" stroke-dashoffset="0.3"/>
<line x1="277.30" y1="318.35" x2="450.27" y2="318.35" stroke="#dadada" stroke-width="1" stroke-dasharray="4.8 4.4" stroke-dashoffset="0.9"/>
<line x1="355.93" y1="176.83" x2="355.93" y2="349.80" stroke="#e1e1e1" stroke-width="1" stroke-dasharray="4.6 4.6" stroke-dashoffset="0.3"/>
<line x1="277.30" y1="271.18" x2="450.27" y2="271.18" stroke="#dadada" stroke-width="1" stroke-dasharray="4.8 4.4" stroke-dashoffset="0.9"/>
<line x1="434.55" y1="176.83" x2="434.55" y2="349.80" stroke="#e1e1e1" stroke-width="1" stroke-dasharray="4.6 4.6" stroke-dashoffset="0.3"/>
<line x1="277.30" y1="192.55" x2="450.27" y2="192.55" stroke="#dadada" stroke-width="1" stroke-dasharray="4.8 4.4" stroke-dashoffset="0.9"/>
<line x1="277.30" y1="349.80" x2="450.27" y2="176.83" stroke="#707070" stroke-width="0.95" stroke-dasharray="4.6 4.8" stroke-dashoffset="4"/>
<line x1="277.30" y1="349.80" x2="277.30" y2="346.60" stroke="#231f20" stroke-width="1.1"/>
<line x1="277.30" y1="349.80" x2="280.50" y2="349.80" stroke="#231f20" stroke-width="1.1"/>
<line x1="293.03" y1="349.80" x2="293.03" y2="348.00" stroke="#231f20" stroke-width="1.1"/>
<line x1="277.30" y1="334.07" x2="279.10" y2="334.07" stroke="#231f20" stroke-width="1.1"/>
<line x1="308.75" y1="349.80" x2="308.75" y2="346.60" stroke="#231f20" stroke-width="1.1"/>
<line x1="277.30" y1="318.35" x2="280.50" y2="318.35" stroke="#231f20" stroke-width="1.1"/>
<line x1="324.48" y1="349.80" x2="324.48" y2="348.00" stroke="#231f20" stroke-width="1.1"/>
<line x1="277.30" y1="302.62" x2="279.10" y2="302.62" stroke="#231f20" stroke-width="1.1"/>
<line x1="340.20" y1="349.80" x2="340.20" y2="346.60" stroke="#231f20" stroke-width="1.1"/>
<line x1="277.30" y1="286.90" x2="280.50" y2="286.90" stroke="#231f20" stroke-width="1.1"/>
<line x1="355.93" y1="349.80" x2="355.93" y2="348.00" stroke="#231f20" stroke-width="1.1"/>
<line x1="277.30" y1="271.18" x2="279.10" y2="271.18" stroke="#231f20" stroke-width="1.1"/>
<line x1="371.65" y1="349.80" x2="371.65" y2="346.60" stroke="#231f20" stroke-width="1.1"/>
<line x1="277.30" y1="255.45" x2="280.50" y2="255.45" stroke="#231f20" stroke-width="1.1"/>
<line x1="387.38" y1="349.80" x2="387.38" y2="348.00" stroke="#231f20" stroke-width="1.1"/>
<line x1="277.30" y1="239.73" x2="279.10" y2="239.73" stroke="#231f20" stroke-width="1.1"/>
<line x1="403.10" y1="349.80" x2="403.10" y2="346.60" stroke="#231f20" stroke-width="1.1"/>
<line x1="277.30" y1="224.00" x2="280.50" y2="224.00" stroke="#231f20" stroke-width="1.1"/>
<line x1="418.83" y1="349.80" x2="418.83" y2="348.00" stroke="#231f20" stroke-width="1.1"/>
<line x1="277.30" y1="208.28" x2="279.10" y2="208.28" stroke="#231f20" stroke-width="1.1"/>
<line x1="434.55" y1="349.80" x2="434.55" y2="346.60" stroke="#231f20" stroke-width="1.1"/>
<line x1="277.30" y1="192.55" x2="280.50" y2="192.55" stroke="#231f20" stroke-width="1.1"/>
<line x1="450.27" y1="349.80" x2="450.27" y2="348.00" stroke="#231f20" stroke-width="1.1"/>
<line x1="277.30" y1="176.83" x2="279.10" y2="176.83" stroke="#231f20" stroke-width="1.1"/>
<path d="M283.04,330.38L290.44,337.77M283.04,337.77L290.44,330.38" stroke="#000" stroke-width="1.35" fill="none"/>
<path d="M289.33,330.38L296.73,337.77M289.33,337.77L296.73,330.38" stroke="#000" stroke-width="1.35" fill="none"/>
<path d="M305.05,330.38L312.45,337.77M305.05,337.77L312.45,330.38" stroke="#000" stroke-width="1.35" fill="none"/>
<path d="M352.23,330.38L359.62,337.77M352.23,337.77L359.62,330.38" stroke="#000" stroke-width="1.35" fill="none"/>
<path d="M430.85,330.38L438.25,337.77M430.85,337.77L438.25,330.38" stroke="#000" stroke-width="1.35" fill="none"/>
<path d="M283.04,336.67L290.44,344.06M283.04,344.06L290.44,336.67" stroke="#000" stroke-width="1.35" fill="none"/>
<path d="M289.33,336.67L296.73,344.06M289.33,344.06L296.73,336.67" stroke="#000" stroke-width="1.35" fill="none"/>
<path d="M305.05,336.67L312.45,344.06M305.05,344.06L312.45,336.67" stroke="#000" stroke-width="1.35" fill="none"/>
<path d="M352.23,336.67L359.62,344.06M352.23,344.06L359.62,336.67" stroke="#000" stroke-width="1.35" fill="none"/>
<path d="M430.85,336.67L438.25,344.06M430.85,344.06L438.25,336.67" stroke="#000" stroke-width="1.35" fill="none"/>
<path d="M283.04,188.85L290.44,196.25M283.04,196.25L290.44,188.85" stroke="#000" stroke-width="1.35" fill="none"/>
<path d="M289.33,188.85L296.73,196.25M289.33,196.25L296.73,188.85" stroke="#000" stroke-width="1.35" fill="none"/>
<path d="M308.75,188.70V195.75M304.85,195.75H312.65" stroke="#c8441c" stroke-width="1.35" fill="none"/>
<path d="M352.23,188.85L359.62,196.25M352.23,196.25L359.62,188.85" stroke="#000" stroke-width="1.35" fill="none"/>
<path d="M430.85,188.85L438.25,196.25M430.85,196.25L438.25,188.85" stroke="#000" stroke-width="1.35" fill="none"/>
<path d="M283.14,273.88L286.44,267.48M287.04,274.58L290.33,268.18" stroke="#c8441c" stroke-width="1.45" fill="none"/>
<path d="M289.43,273.88L292.73,267.48M293.33,274.58L296.62,268.18" stroke="#c8441c" stroke-width="1.45" fill="none"/>
<path d="M308.75,267.32V274.38M304.85,274.38H312.65" stroke="#c8441c" stroke-width="1.35" fill="none"/>
<path d="M355.93,267.32V274.38M352.03,274.38H359.82" stroke="#c8441c" stroke-width="1.35" fill="none"/>
<path d="M430.85,267.48L438.25,274.88M430.85,274.88L438.25,267.48" stroke="#000" stroke-width="1.35" fill="none"/>
<path d="M283.04,314.65L290.44,322.05M283.04,322.05L290.44,314.65" stroke="#000" stroke-width="1.35" fill="none"/>
<path d="M289.33,314.65L296.73,322.05M289.33,322.05L296.73,314.65" stroke="#000" stroke-width="1.35" fill="none"/>
<path d="M308.75,314.50V321.55M304.85,321.55H312.65" stroke="#c8441c" stroke-width="1.35" fill="none"/>
<path d="M355.93,314.50V321.55M352.03,321.55H359.82" stroke="#c8441c" stroke-width="1.35" fill="none"/>
<path d="M434.55,314.50V321.55M430.65,321.55H438.45" stroke="#c8441c" stroke-width="1.35" fill="none"/>
<rect x="277.30" y="176.83" width="172.97" height="172.97" fill="none" stroke="#231f20" stroke-width="1.5"/>
<text x="277.80" y="362.90" font-size="13" text-anchor="middle" fill="#231f20" >0</text>
<text x="274.30" y="354.20" font-size="13" text-anchor="end" fill="#231f20" >0</text>
<text x="309.25" y="362.90" font-size="13" text-anchor="middle" fill="#231f20" >10</text>
<text x="274.30" y="322.75" font-size="13" text-anchor="end" fill="#231f20" >10</text>
<text x="340.70" y="362.90" font-size="13" text-anchor="middle" fill="#231f20" >20</text>
<text x="274.30" y="291.30" font-size="13" text-anchor="end" fill="#231f20" >20</text>
<text x="372.15" y="362.90" font-size="13" text-anchor="middle" fill="#231f20" >30</text>
<text x="274.30" y="259.85" font-size="13" text-anchor="end" fill="#231f20" >30</text>
<text x="403.60" y="362.90" font-size="13" text-anchor="middle" fill="#231f20" >40</text>
<text x="274.30" y="228.40" font-size="13" text-anchor="end" fill="#231f20" >40</text>
<text x="435.05" y="362.90" font-size="13" text-anchor="middle" fill="#231f20" >50</text>
<text x="274.30" y="196.95" font-size="13" text-anchor="end" fill="#231f20" >50</text>
<text x="319" y="169.5" font-size="12.8" fill="#231f20" textLength="89" lengthAdjust="spacingAndGlyphs">Al<tspan font-size="9" dy="3.8">2</tspan><tspan dy="-3.8">O</tspan><tspan font-size="9" dy="3.8">3</tspan><tspan dy="-3.8"> platelets</tspan></text>
<text x="363.79" y="379.3" font-size="12.8" text-anchor="middle" fill="#231f20" textLength="102" lengthAdjust="spacingAndGlyphs">Distance, <tspan font-style="italic">D</tspan> (μm)</text>
<text transform="translate(249.70,263.31) rotate(-90)" x="0" y="0" font-size="12.8" text-anchor="middle" fill="#231f20" textLength="90.5" lengthAdjust="spacingAndGlyphs">Width, <tspan font-style="italic">W</tspan> (μm)</text>
<rect x="502.1" y="176.83" width="172.97" height="172.97" fill="#f1f1f1"/>
<line x1="511.54" y1="176.83" x2="511.54" y2="349.80" stroke="#e1e1e1" stroke-width="1" stroke-dasharray="4.6 4.6" stroke-dashoffset="0.3"/>
<line x1="502.10" y1="340.37" x2="675.08" y2="340.37" stroke="#dadada" stroke-width="1" stroke-dasharray="4.8 4.4" stroke-dashoffset="0.9"/>
<line x1="517.83" y1="176.83" x2="517.83" y2="349.80" stroke="#e1e1e1" stroke-width="1" stroke-dasharray="4.6 4.6" stroke-dashoffset="0.3"/>
<line x1="502.10" y1="334.07" x2="675.08" y2="334.07" stroke="#dadada" stroke-width="1" stroke-dasharray="4.8 4.4" stroke-dashoffset="0.9"/>
<line x1="533.55" y1="176.83" x2="533.55" y2="349.80" stroke="#e1e1e1" stroke-width="1" stroke-dasharray="4.6 4.6" stroke-dashoffset="0.3"/>
<line x1="502.10" y1="318.35" x2="675.08" y2="318.35" stroke="#dadada" stroke-width="1" stroke-dasharray="4.8 4.4" stroke-dashoffset="0.9"/>
<line x1="580.73" y1="176.83" x2="580.73" y2="349.80" stroke="#e1e1e1" stroke-width="1" stroke-dasharray="4.6 4.6" stroke-dashoffset="0.3"/>
<line x1="502.10" y1="271.18" x2="675.08" y2="271.18" stroke="#dadada" stroke-width="1" stroke-dasharray="4.8 4.4" stroke-dashoffset="0.9"/>
<line x1="659.35" y1="176.83" x2="659.35" y2="349.80" stroke="#e1e1e1" stroke-width="1" stroke-dasharray="4.6 4.6" stroke-dashoffset="0.3"/>
<line x1="502.10" y1="192.55" x2="675.08" y2="192.55" stroke="#dadada" stroke-width="1" stroke-dasharray="4.8 4.4" stroke-dashoffset="0.9"/>
<line x1="502.10" y1="349.80" x2="675.08" y2="176.83" stroke="#707070" stroke-width="0.95" stroke-dasharray="4.6 4.8" stroke-dashoffset="4"/>
<line x1="502.10" y1="349.80" x2="502.10" y2="346.60" stroke="#231f20" stroke-width="1.1"/>
<line x1="502.10" y1="349.80" x2="505.30" y2="349.80" stroke="#231f20" stroke-width="1.1"/>
<line x1="517.83" y1="349.80" x2="517.83" y2="348.00" stroke="#231f20" stroke-width="1.1"/>
<line x1="502.10" y1="334.07" x2="503.90" y2="334.07" stroke="#231f20" stroke-width="1.1"/>
<line x1="533.55" y1="349.80" x2="533.55" y2="346.60" stroke="#231f20" stroke-width="1.1"/>
<line x1="502.10" y1="318.35" x2="505.30" y2="318.35" stroke="#231f20" stroke-width="1.1"/>
<line x1="549.27" y1="349.80" x2="549.27" y2="348.00" stroke="#231f20" stroke-width="1.1"/>
<line x1="502.10" y1="302.62" x2="503.90" y2="302.62" stroke="#231f20" stroke-width="1.1"/>
<line x1="565.00" y1="349.80" x2="565.00" y2="346.60" stroke="#231f20" stroke-width="1.1"/>
<line x1="502.10" y1="286.90" x2="505.30" y2="286.90" stroke="#231f20" stroke-width="1.1"/>
<line x1="580.73" y1="349.80" x2="580.73" y2="348.00" stroke="#231f20" stroke-width="1.1"/>
<line x1="502.10" y1="271.18" x2="503.90" y2="271.18" stroke="#231f20" stroke-width="1.1"/>
<line x1="596.45" y1="349.80" x2="596.45" y2="346.60" stroke="#231f20" stroke-width="1.1"/>
<line x1="502.10" y1="255.45" x2="505.30" y2="255.45" stroke="#231f20" stroke-width="1.1"/>
<line x1="612.18" y1="349.80" x2="612.18" y2="348.00" stroke="#231f20" stroke-width="1.1"/>
<line x1="502.10" y1="239.73" x2="503.90" y2="239.73" stroke="#231f20" stroke-width="1.1"/>
<line x1="627.90" y1="349.80" x2="627.90" y2="346.60" stroke="#231f20" stroke-width="1.1"/>
<line x1="502.10" y1="224.00" x2="505.30" y2="224.00" stroke="#231f20" stroke-width="1.1"/>
<line x1="643.62" y1="349.80" x2="643.62" y2="348.00" stroke="#231f20" stroke-width="1.1"/>
<line x1="502.10" y1="208.28" x2="503.90" y2="208.28" stroke="#231f20" stroke-width="1.1"/>
<line x1="659.35" y1="349.80" x2="659.35" y2="346.60" stroke="#231f20" stroke-width="1.1"/>
<line x1="502.10" y1="192.55" x2="505.30" y2="192.55" stroke="#231f20" stroke-width="1.1"/>
<line x1="675.08" y1="349.80" x2="675.08" y2="348.00" stroke="#231f20" stroke-width="1.1"/>
<line x1="502.10" y1="176.83" x2="503.90" y2="176.83" stroke="#231f20" stroke-width="1.1"/>
<path d="M507.84,330.38L515.24,337.77M507.84,337.77L515.24,330.38" stroke="#000" stroke-width="1.35" fill="none"/>
<path d="M514.12,330.38L521.53,337.77M514.12,337.77L521.53,330.38" stroke="#000" stroke-width="1.35" fill="none"/>
<path d="M529.85,330.38L537.25,337.77M529.85,337.77L537.25,330.38" stroke="#000" stroke-width="1.35" fill="none"/>
<path d="M577.02,330.38L584.43,337.77M577.02,337.77L584.43,330.38" stroke="#000" stroke-width="1.35" fill="none"/>
<path d="M655.65,330.38L663.05,337.77M655.65,337.77L663.05,330.38" stroke="#000" stroke-width="1.35" fill="none"/>
<path d="M507.84,336.67L515.24,344.06M507.84,344.06L515.24,336.67" stroke="#000" stroke-width="1.35" fill="none"/>
<path d="M514.12,336.67L521.53,344.06M514.12,344.06L521.53,336.67" stroke="#000" stroke-width="1.35" fill="none"/>
<path d="M529.85,336.67L537.25,344.06M529.85,344.06L537.25,336.67" stroke="#000" stroke-width="1.35" fill="none"/>
<path d="M577.02,336.67L584.43,344.06M577.02,344.06L584.43,336.67" stroke="#000" stroke-width="1.35" fill="none"/>
<path d="M655.65,336.67L663.05,344.06M655.65,344.06L663.05,336.67" stroke="#000" stroke-width="1.35" fill="none"/>
<path d="M507.84,188.85L515.24,196.25M507.84,196.25L515.24,188.85" stroke="#000" stroke-width="1.35" fill="none"/>
<path d="M514.12,188.85L521.53,196.25M514.12,196.25L521.53,188.85" stroke="#000" stroke-width="1.35" fill="none"/>
<path d="M529.85,188.85L537.25,196.25M529.85,196.25L537.25,188.85" stroke="#000" stroke-width="1.35" fill="none"/>
<path d="M577.02,188.85L584.43,196.25M577.02,196.25L584.43,188.85" stroke="#000" stroke-width="1.35" fill="none"/>
<path d="M655.65,188.85L663.05,196.25M655.65,196.25L663.05,188.85" stroke="#000" stroke-width="1.35" fill="none"/>
<path d="M507.94,273.88L511.24,267.48M511.84,274.58L515.13,268.18" stroke="#c8441c" stroke-width="1.45" fill="none"/>
<path d="M514.23,273.88L517.52,267.48M518.13,274.58L521.43,268.18" stroke="#c8441c" stroke-width="1.45" fill="none"/>
<path d="M533.55,267.32V274.38M529.65,274.38H537.45" stroke="#c8441c" stroke-width="1.35" fill="none"/>
<path d="M580.73,267.32V274.38M576.83,274.38H584.62" stroke="#c8441c" stroke-width="1.35" fill="none"/>
<path d="M655.65,267.48L663.05,274.88M655.65,274.88L663.05,267.48" stroke="#000" stroke-width="1.35" fill="none"/>
<path d="M507.84,314.65L515.24,322.05M507.84,322.05L515.24,314.65" stroke="#000" stroke-width="1.35" fill="none"/>
<path d="M514.12,314.65L521.53,322.05M514.12,322.05L521.53,314.65" stroke="#000" stroke-width="1.35" fill="none"/>
<path d="M533.55,314.50V321.55M529.65,321.55H537.45" stroke="#c8441c" stroke-width="1.35" fill="none"/>
<path d="M580.73,314.50V321.55M576.83,321.55H584.62" stroke="#c8441c" stroke-width="1.35" fill="none"/>
<path d="M655.65,314.65L663.05,322.05M655.65,322.05L663.05,314.65" stroke="#000" stroke-width="1.35" fill="none"/>
<rect x="502.10" y="176.83" width="172.97" height="172.97" fill="none" stroke="#231f20" stroke-width="1.5"/>
<text x="502.60" y="362.90" font-size="13" text-anchor="middle" fill="#231f20" >0</text>
<text x="499.10" y="354.20" font-size="13" text-anchor="end" fill="#231f20" >0</text>
<text x="534.05" y="362.90" font-size="13" text-anchor="middle" fill="#231f20" >10</text>
<text x="499.10" y="322.75" font-size="13" text-anchor="end" fill="#231f20" >10</text>
<text x="565.50" y="362.90" font-size="13" text-anchor="middle" fill="#231f20" >20</text>
<text x="499.10" y="291.30" font-size="13" text-anchor="end" fill="#231f20" >20</text>
<text x="596.95" y="362.90" font-size="13" text-anchor="middle" fill="#231f20" >30</text>
<text x="499.10" y="259.85" font-size="13" text-anchor="end" fill="#231f20" >30</text>
<text x="628.40" y="362.90" font-size="13" text-anchor="middle" fill="#231f20" >40</text>
<text x="499.10" y="228.40" font-size="13" text-anchor="end" fill="#231f20" >40</text>
<text x="659.85" y="362.90" font-size="13" text-anchor="middle" fill="#231f20" >50</text>
<text x="499.10" y="196.95" font-size="13" text-anchor="end" fill="#231f20" >50</text>
<text x="588.59" y="169.4" font-size="12.8" text-anchor="middle" fill="#231f20" textLength="93.2" lengthAdjust="spacingAndGlyphs">BN nanosheets</text>
<text x="588.59" y="379.3" font-size="12.8" text-anchor="middle" fill="#231f20" textLength="102" lengthAdjust="spacingAndGlyphs">Distance, <tspan font-style="italic">D</tspan> (μm)</text>
<text transform="translate(474.50,263.31) rotate(-90)" x="0" y="0" font-size="12.8" text-anchor="middle" fill="#231f20" textLength="90.5" lengthAdjust="spacingAndGlyphs">Width, <tspan font-style="italic">W</tspan> (μm)</text>
<rect x="52.8" y="396.70" width="621.80" height="216.90" fill="#f1f1f1"/>
<line x1="52.8" y1="513.5" x2="674.6" y2="513.5" stroke="#7c7c7c" stroke-width="1.1" stroke-dasharray="6.5 5.665" stroke-dashoffset="3.07"/>
<line x1="52.8" y1="584.5" x2="674.6" y2="584.5" stroke="#ababab" stroke-width="1.1" stroke-dasharray="6.5 5.665" stroke-dashoffset="3.07"/>
<line x1="52.8" y1="613.60" x2="56.0" y2="613.60" stroke="#231f20" stroke-width="1.1"/>
<text x="49.60" y="618.20" font-size="13" text-anchor="end" fill="#231f20" >0</text>
<line x1="52.8" y1="591.91" x2="54.599999999999994" y2="591.91" stroke="#231f20" stroke-width="1.1"/>
<line x1="52.8" y1="570.22" x2="56.0" y2="570.22" stroke="#231f20" stroke-width="1.1"/>
<text x="49.60" y="574.82" font-size="13" text-anchor="end" fill="#231f20" >50</text>
<line x1="52.8" y1="548.53" x2="54.599999999999994" y2="548.53" stroke="#231f20" stroke-width="1.1"/>
<line x1="52.8" y1="526.84" x2="56.0" y2="526.84" stroke="#231f20" stroke-width="1.1"/>
<text x="49.60" y="531.44" font-size="13" text-anchor="end" fill="#231f20" >100</text>
<line x1="52.8" y1="505.15" x2="54.599999999999994" y2="505.15" stroke="#231f20" stroke-width="1.1"/>
<line x1="52.8" y1="483.46" x2="56.0" y2="483.46" stroke="#231f20" stroke-width="1.1"/>
<text x="49.60" y="488.06" font-size="13" text-anchor="end" fill="#231f20" >150</text>
<line x1="52.8" y1="461.77" x2="54.599999999999994" y2="461.77" stroke="#231f20" stroke-width="1.1"/>
<line x1="52.8" y1="440.08" x2="56.0" y2="440.08" stroke="#231f20" stroke-width="1.1"/>
<text x="49.60" y="444.68" font-size="13" text-anchor="end" fill="#231f20" >200</text>
<line x1="52.8" y1="418.39" x2="54.599999999999994" y2="418.39" stroke="#231f20" stroke-width="1.1"/>
<line x1="52.8" y1="396.70" x2="56.0" y2="396.70" stroke="#231f20" stroke-width="1.1"/>
<text x="49.60" y="401.30" font-size="13" text-anchor="end" fill="#231f20" >250</text>
<line x1="70.54" y1="613.6" x2="70.54" y2="611.7" stroke="#231f20" stroke-width="1.1"/>
<line x1="86.97" y1="613.6" x2="86.97" y2="611.7" stroke="#231f20" stroke-width="1.1"/>
<line x1="100.86" y1="613.6" x2="100.86" y2="611.7" stroke="#231f20" stroke-width="1.1"/>
<line x1="112.89" y1="613.6" x2="112.89" y2="611.7" stroke="#231f20" stroke-width="1.1"/>
<line x1="123.51" y1="613.6" x2="123.51" y2="611.7" stroke="#231f20" stroke-width="1.1"/>
<line x1="133.00" y1="613.6" x2="133.00" y2="610.2" stroke="#231f20" stroke-width="1.1"/>
<line x1="195.46" y1="613.6" x2="195.46" y2="611.7" stroke="#231f20" stroke-width="1.1"/>
<line x1="232.00" y1="613.6" x2="232.00" y2="611.7" stroke="#231f20" stroke-width="1.1"/>
<line x1="257.93" y1="613.6" x2="257.93" y2="611.7" stroke="#231f20" stroke-width="1.1"/>
<line x1="278.04" y1="613.6" x2="278.04" y2="611.7" stroke="#231f20" stroke-width="1.1"/>
<line x1="294.47" y1="613.6" x2="294.47" y2="611.7" stroke="#231f20" stroke-width="1.1"/>
<line x1="308.36" y1="613.6" x2="308.36" y2="611.7" stroke="#231f20" stroke-width="1.1"/>
<line x1="320.39" y1="613.6" x2="320.39" y2="611.7" stroke="#231f20" stroke-width="1.1"/>
<line x1="331.01" y1="613.6" x2="331.01" y2="611.7" stroke="#231f20" stroke-width="1.1"/>
<line x1="340.50" y1="613.6" x2="340.50" y2="610.2" stroke="#231f20" stroke-width="1.1"/>
<line x1="402.96" y1="613.6" x2="402.96" y2="611.7" stroke="#231f20" stroke-width="1.1"/>
<line x1="439.50" y1="613.6" x2="439.50" y2="611.7" stroke="#231f20" stroke-width="1.1"/>
<line x1="465.43" y1="613.6" x2="465.43" y2="611.7" stroke="#231f20" stroke-width="1.1"/>
<line x1="485.54" y1="613.6" x2="485.54" y2="611.7" stroke="#231f20" stroke-width="1.1"/>
<line x1="501.97" y1="613.6" x2="501.97" y2="611.7" stroke="#231f20" stroke-width="1.1"/>
<line x1="515.86" y1="613.6" x2="515.86" y2="611.7" stroke="#231f20" stroke-width="1.1"/>
<line x1="527.89" y1="613.6" x2="527.89" y2="611.7" stroke="#231f20" stroke-width="1.1"/>
<line x1="538.51" y1="613.6" x2="538.51" y2="611.7" stroke="#231f20" stroke-width="1.1"/>
<line x1="548.00" y1="613.6" x2="548.00" y2="610.2" stroke="#231f20" stroke-width="1.1"/>
<line x1="610.46" y1="613.6" x2="610.46" y2="611.7" stroke="#231f20" stroke-width="1.1"/>
<line x1="647.00" y1="613.6" x2="647.00" y2="611.7" stroke="#231f20" stroke-width="1.1"/>
<line x1="672.93" y1="613.6" x2="672.93" y2="611.7" stroke="#231f20" stroke-width="1.1"/>
<text x="133.30" y="629.4" font-size="13" text-anchor="middle" fill="#231f20" >0.1</text>
<text x="340.80" y="629.4" font-size="13" text-anchor="middle" fill="#231f20" >1</text>
<text x="548.60" y="629.4" font-size="13" text-anchor="middle" fill="#231f20" >10</text>
<text x="347.4" y="647" font-size="16.5" textLength="33" lengthAdjust="spacingAndGlyphs" fill="#231f20" >W/D</text>
<path d="M82.85,509.75L90.55,517.45M82.85,517.45L90.55,509.75" stroke="#000" stroke-width="1.35" fill="none"/>
<path d="M82.85,532.95L90.55,540.65M82.85,540.65L90.55,532.95" stroke="#000" stroke-width="1.35" fill="none"/>
<path d="M82.85,553.95L90.55,561.65M82.85,561.65L90.55,553.95" stroke="#000" stroke-width="1.35" fill="none"/>
<path d="M129.55,505.05L137.25,512.75M129.55,512.75L137.25,505.05" stroke="#000" stroke-width="1.35" fill="none"/>
<path d="M129.55,530.35L137.25,538.05M129.55,538.05L137.25,530.35" stroke="#000" stroke-width="1.35" fill="none"/>
<path d="M129.55,547.85L137.25,555.55M129.55,555.55L137.25,547.85" stroke="#000" stroke-width="1.35" fill="none"/>
<path d="M147.95,556.25L155.65,563.95M147.95,563.95L155.65,556.25" stroke="#000" stroke-width="1.35" fill="none"/>
<path d="M147.95,567.95L155.65,575.65M147.95,575.65L155.65,567.95" stroke="#000" stroke-width="1.35" fill="none"/>
<path d="M147.95,577.95L155.65,585.65M147.95,585.65L155.65,577.95" stroke="#000" stroke-width="1.35" fill="none"/>
<path d="M191.95,494.35L199.65,502.05M191.95,502.05L199.65,494.35" stroke="#000" stroke-width="1.35" fill="none"/>
<path d="M191.95,552.25L199.65,559.95M191.95,559.95L199.65,552.25" stroke="#000" stroke-width="1.35" fill="none"/>
<path d="M191.95,565.15L199.65,572.85M191.95,572.85L199.65,565.15" stroke="#000" stroke-width="1.35" fill="none"/>
<path d="M191.95,576.15L199.65,583.85M191.95,583.85L199.65,576.15" stroke="#000" stroke-width="1.35" fill="none"/>
<path d="M195.80,519.10V525.80M192.20,525.80H199.40" stroke="#8a52ea" stroke-width="1.4" fill="none"/>
<path d="M195.80,538.30V545.00M192.20,545.00H199.40" stroke="#c8441c" stroke-width="1.4" fill="none"/>
<path d="M227.55,580.45L235.25,588.15M227.55,588.15L235.25,580.45" stroke="#000" stroke-width="1.35" fill="none"/>
<path d="M227.55,587.85L235.25,595.55M227.55,595.55L235.25,587.85" stroke="#000" stroke-width="1.35" fill="none"/>
<path d="M227.55,600.85L235.25,608.55M227.55,608.55L235.25,600.85" stroke="#000" stroke-width="1.35" fill="none"/>
<path d="M258.20,542.70V549.40M254.60,549.40H261.80" stroke="#66c2a0" stroke-width="1.4" fill="none"/>
<path d="M258.20,554.90V561.60M254.60,561.60H261.80" stroke="#8a52ea" stroke-width="1.4" fill="none"/>
<path d="M258.20,568.40V575.10M254.60,575.10H261.80" stroke="#c8441c" stroke-width="1.4" fill="none"/>
<path d="M274.15,466.45L281.85,474.15M274.15,474.15L281.85,466.45" stroke="#000" stroke-width="1.35" fill="none"/>
<path d="M274.15,499.45L281.85,507.15M274.15,507.15L281.85,499.45" stroke="#000" stroke-width="1.35" fill="none"/>
<path d="M274.15,580.55L281.85,588.25M274.15,588.25L281.85,580.55" stroke="#000" stroke-width="1.35" fill="none"/>
<path d="M274.15,587.85L281.85,595.55M274.15,595.55L281.85,587.85" stroke="#000" stroke-width="1.35" fill="none"/>
<path d="M274.15,593.75L281.85,601.45M274.15,601.45L281.85,593.75" stroke="#000" stroke-width="1.35" fill="none"/>
<path d="M278.00,522.20V528.90M274.40,528.90H281.60" stroke="#c8441c" stroke-width="1.4" fill="none"/>
<path d="M290.15,593.55L297.85,601.25M290.15,601.25L297.85,593.55" stroke="#000" stroke-width="1.35" fill="none"/>
<path d="M290.15,596.85L297.85,604.55M290.15,604.55L297.85,596.85" stroke="#000" stroke-width="1.35" fill="none"/>
<path d="M290.15,600.15L297.85,607.85M290.15,607.85L297.85,600.15" stroke="#000" stroke-width="1.35" fill="none"/>
<path d="M336.75,421.05L344.45,428.75M336.75,428.75L344.45,421.05" stroke="#000" stroke-width="1.35" fill="none"/>
<path d="M336.75,464.25L344.45,471.95M336.75,471.95L344.45,464.25" stroke="#000" stroke-width="1.35" fill="none"/>
<path d="M336.75,499.45L344.45,507.15M336.75,507.15L344.45,499.45" stroke="#000" stroke-width="1.35" fill="none"/>
<path d="M336.75,590.95L344.45,598.65M336.75,598.65L344.45,590.95" stroke="#000" stroke-width="1.35" fill="none"/>
<path d="M336.75,593.75L344.45,601.45M336.75,601.45L344.45,593.75" stroke="#000" stroke-width="1.35" fill="none"/>
<path d="M336.75,598.85L344.45,606.55M336.75,606.55L344.45,598.85" stroke="#000" stroke-width="1.35" fill="none"/>
<path d="M336.75,604.15L344.45,611.85M336.75,611.85L344.45,604.15" stroke="#000" stroke-width="1.35" fill="none"/>
<path d="M340.60,514.60V521.30M337.00,521.30H344.20" stroke="#66c2a0" stroke-width="1.4" fill="none"/>
<path d="M340.60,532.90V539.60M337.00,539.60H344.20" stroke="#8a52ea" stroke-width="1.4" fill="none"/>
<path d="M340.60,550.00V556.70M337.00,556.70H344.20" stroke="#c8441c" stroke-width="1.4" fill="none"/>
<path d="M340.60,570.70V577.40M337.00,577.40H344.20" stroke="#66c2a0" stroke-width="1.4" fill="none"/>
<path d="M340.60,576.00V582.70M337.00,582.70H344.20" stroke="#8a52ea" stroke-width="1.4" fill="none"/>
<path d="M340.60,583.40V590.10M337.00,590.10H344.20" stroke="#c8441c" stroke-width="1.4" fill="none"/>
<path d="M383.15,592.55L390.85,600.25M383.15,600.25L390.85,592.55" stroke="#000" stroke-width="1.35" fill="none"/>
<path d="M383.15,596.55L390.85,604.25M383.15,604.25L390.85,596.55" stroke="#000" stroke-width="1.35" fill="none"/>
<path d="M383.15,600.35L390.85,608.05M383.15,608.05L390.85,600.35" stroke="#000" stroke-width="1.35" fill="none"/>
<path d="M400.55,466.65L408.25,474.35M400.55,474.35L408.25,466.65" stroke="#000" stroke-width="1.35" fill="none"/>
<path d="M400.55,499.55L408.25,507.25M400.55,507.25L408.25,499.55" stroke="#000" stroke-width="1.35" fill="none"/>
<path d="M400.55,580.65L408.25,588.35M400.55,588.35L408.25,580.65" stroke="#000" stroke-width="1.35" fill="none"/>
<path d="M400.55,586.75L408.25,594.45M400.55,594.45L408.25,586.75" stroke="#000" stroke-width="1.35" fill="none"/>
<path d="M400.55,593.65L408.25,601.35M400.55,601.35L408.25,593.65" stroke="#000" stroke-width="1.35" fill="none"/>
<path d="M404.40,522.00V528.70M400.80,528.70H408.00" stroke="#c8441c" stroke-width="1.4" fill="none"/>
<path d="M423.80,543.30V550.00M420.20,550.00H427.40" stroke="#66c2a0" stroke-width="1.4" fill="none"/>
<path d="M423.80,555.80V562.50M420.20,562.50H427.40" stroke="#8a52ea" stroke-width="1.4" fill="none"/>
<path d="M423.80,568.60V575.30M420.20,575.30H427.40" stroke="#c8441c" stroke-width="1.4" fill="none"/>
<path d="M445.95,585.55L453.65,593.25M445.95,593.25L453.65,585.55" stroke="#000" stroke-width="1.35" fill="none"/>
<path d="M445.95,591.15L453.65,598.85M445.95,598.85L453.65,591.15" stroke="#000" stroke-width="1.35" fill="none"/>
<path d="M445.95,596.55L453.65,604.25M445.95,604.25L453.65,596.55" stroke="#000" stroke-width="1.35" fill="none"/>
<path d="M481.05,494.75L488.75,502.45M481.05,502.45L488.75,494.75" stroke="#000" stroke-width="1.35" fill="none"/>
<path d="M484.90,519.50V526.20M481.30,526.20H488.50" stroke="#8a52ea" stroke-width="1.4" fill="none"/>
<path d="M484.90,537.90V544.60M481.30,544.60H488.50" stroke="#c8441c" stroke-width="1.4" fill="none"/>
<path d="M481.30,559.20L484.50,552.60M485.30,560.00L488.50,553.40" stroke="#66c2a0" stroke-width="1.45" fill="none"/>
<path d="M481.30,571.90L484.50,565.30M485.30,572.70L488.50,566.10" stroke="#8a52ea" stroke-width="1.45" fill="none"/>
<path d="M481.30,582.90L484.50,576.30M485.30,583.70L488.50,577.10" stroke="#c8441c" stroke-width="1.45" fill="none"/>
<path d="M528.40,563.30L531.60,556.70M532.40,564.10L535.60,557.50" stroke="#66c2a0" stroke-width="1.45" fill="none"/>
<path d="M528.40,574.40L531.60,567.80M532.40,575.20L535.60,568.60" stroke="#8a52ea" stroke-width="1.45" fill="none"/>
<path d="M528.40,585.40L531.60,578.80M532.40,586.20L535.60,579.60" stroke="#c8441c" stroke-width="1.45" fill="none"/>
<path d="M546.15,504.85L553.85,512.55M546.15,512.55L553.85,504.85" stroke="#000" stroke-width="1.35" fill="none"/>
<path d="M546.15,530.35L553.85,538.05M546.15,538.05L553.85,530.35" stroke="#000" stroke-width="1.35" fill="none"/>
<path d="M546.15,547.95L553.85,555.65M546.15,555.65L553.85,547.95" stroke="#000" stroke-width="1.35" fill="none"/>
<path d="M592.35,509.95L600.05,517.65M592.35,517.65L600.05,509.95" stroke="#000" stroke-width="1.35" fill="none"/>
<path d="M592.35,532.55L600.05,540.25M592.35,540.25L600.05,532.55" stroke="#000" stroke-width="1.35" fill="none"/>
<path d="M592.35,551.05L600.05,558.75M592.35,558.75L600.05,551.05" stroke="#000" stroke-width="1.35" fill="none"/>
<path d="M84.10,406.80V413.10M80.50,413.10H87.70" stroke="#c8441c" stroke-width="1.4" fill="none"/>
<path d="M100.80,412.70L103.80,407.10M104.20,413.30L107.20,407.70" stroke="#c8441c" stroke-width="1.45" fill="none"/>
<path d="M84.10,431.60V437.90M80.50,437.90H87.70" stroke="#8a52ea" stroke-width="1.4" fill="none"/>
<path d="M100.80,437.50L103.80,431.90M104.20,438.10L107.20,432.50" stroke="#8a52ea" stroke-width="1.45" fill="none"/>
<path d="M84.10,455.90V462.20M80.50,462.20H87.70" stroke="#66c2a0" stroke-width="1.4" fill="none"/>
<path d="M100.80,461.80L103.80,456.20M104.20,462.40L107.20,456.80" stroke="#66c2a0" stroke-width="1.45" fill="none"/>
<text x="124.6" y="415.5" font-size="14.2" textLength="20.4" lengthAdjust="spacingAndGlyphs" fill="#231f20" >GO</text>
<text x="119.1" y="437.9" font-size="13.6" fill="#231f20">Al<tspan font-size="9" dy="5.2">2</tspan><tspan dy="-5.2">O</tspan><tspan font-size="9" dy="5.2">3</tspan></text>
<text x="126.0" y="464.6" font-size="14.2" textLength="17.6" lengthAdjust="spacingAndGlyphs" fill="#231f20" >BN</text>
<text x="627.6" y="409.8" font-size="12.3" textLength="43" lengthAdjust="spacingAndGlyphs" font-weight="bold" fill="#231f20" >Large <tspan font-style="italic">λ</tspan></text>
<text x="611.4" y="527.8" font-size="12.3" textLength="59" lengthAdjust="spacingAndGlyphs" font-weight="bold" fill="#231f20" >Medium <tspan font-style="italic">λ</tspan></text>
<text x="628.3" y="597.8" font-size="12.3" textLength="42" lengthAdjust="spacingAndGlyphs" font-weight="bold" fill="#231f20" >Small <tspan font-style="italic">λ</tspan></text>
<rect x="52.8" y="396.70" width="621.80" height="216.90" fill="none" stroke="#231f20" stroke-width="1.5"/>
<text transform="translate(21.2,503.3) rotate(-90)" x="0" y="0" font-size="13.4" text-anchor="middle" fill="#231f20"><tspan font-style="italic" font-size="14.2">λk</tspan><tspan font-size="8.9" dy="3.5">suspension</tspan><tspan font-size="12.4" dy="-3.5"> (x 10</tspan><tspan font-size="8.4" dy="-4">-6</tspan><tspan font-size="12.4" dy="4"> W K</tspan><tspan font-size="8.4" dy="-4">-1</tspan><tspan font-size="12.4" dy="4">)</tspan></text>
</svg>
</body></html>
